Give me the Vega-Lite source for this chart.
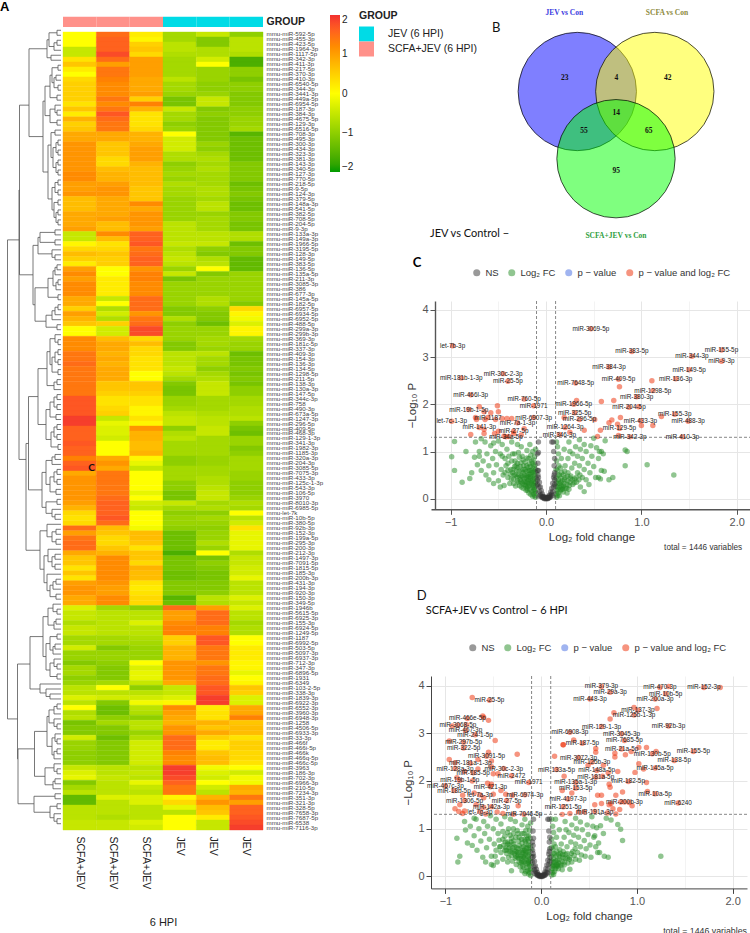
{"$schema":"https://vega.github.io/schema/vega-lite/v6.json","background":"white","padding":0,"config":{"view":{"stroke":null},"font":"Liberation Sans"},
"datasets":{
"heat":[
{"m":"592-5p","s":"S1","v":0},{"m":"592-5p","s":"S2","v":1.5},{"m":"592-5p","s":"S3","v":0.2},{"m":"592-5p","s":"J1","v":-0.8},{"m":"592-5p","s":"J2","v":-0.5},{"m":"592-5p","s":"J3","v":-1},
{"m":"455-3p","s":"S1","v":0},{"m":"455-3p","s":"S2","v":1.6},{"m":"455-3p","s":"S3","v":0.1},{"m":"455-3p","s":"J1","v":-0.8},{"m":"455-3p","s":"J2","v":-1.1},{"m":"455-3p","s":"J3","v":-0.6},
{"m":"423-5p","s":"S1","v":0},{"m":"423-5p","s":"S2","v":1.6},{"m":"423-5p","s":"S3","v":0.5},{"m":"423-5p","s":"J1","v":-0.6},{"m":"423-5p","s":"J2","v":-1.1},{"m":"423-5p","s":"J3","v":-0.6},
{"m":"1964-3p","s":"S1","v":-0.5},{"m":"1964-3p","s":"S2","v":1.6},{"m":"1964-3p","s":"S3","v":0.6},{"m":"1964-3p","s":"J1","v":-0.6},{"m":"1964-3p","s":"J2","v":-0.7},{"m":"1964-3p","s":"J3","v":-0.6},
{"m":"1117-5p","s":"S1","v":-0.5},{"m":"1117-5p","s":"S2","v":1.8},{"m":"1117-5p","s":"S3","v":0.4},{"m":"1117-5p","s":"J1","v":-0.7},{"m":"1117-5p","s":"J2","v":-0.7},{"m":"1117-5p","s":"J3","v":-0.7},
{"m":"342-3p","s":"S1","v":0.3},{"m":"342-3p","s":"S2","v":1.5},{"m":"342-3p","s":"S3","v":1},{"m":"342-3p","s":"J1","v":-0.8},{"m":"342-3p","s":"J2","v":-0.4},{"m":"342-3p","s":"J3","v":-1.6},
{"m":"411-3p","s":"S1","v":0.6},{"m":"411-3p","s":"S2","v":1},{"m":"411-3p","s":"S3","v":1},{"m":"411-3p","s":"J1","v":-0.8},{"m":"411-3p","s":"J2","v":0},{"m":"411-3p","s":"J3","v":-1.6},
{"m":"217-5p","s":"S1","v":0.2},{"m":"217-5p","s":"S2","v":1.4},{"m":"217-5p","s":"S3","v":1},{"m":"217-5p","s":"J1","v":-0.8},{"m":"217-5p","s":"J2","v":-0.9},{"m":"217-5p","s":"J3","v":-1},
{"m":"370-3p","s":"S1","v":0},{"m":"370-3p","s":"S2","v":1.4},{"m":"370-3p","s":"S3","v":1},{"m":"370-3p","s":"J1","v":-0.8},{"m":"370-3p","s":"J2","v":-0.9},{"m":"370-3p","s":"J3","v":-1},
{"m":"410-3p","s":"S1","v":0.4},{"m":"410-3p","s":"S2","v":1.3},{"m":"410-3p","s":"S3","v":0.9},{"m":"410-3p","s":"J1","v":-0.6},{"m":"410-3p","s":"J2","v":-0.9},{"m":"410-3p","s":"J3","v":-1.2},
{"m":"6540-5p","s":"S1","v":0.5},{"m":"6540-5p","s":"S2","v":1.2},{"m":"6540-5p","s":"S3","v":0.9},{"m":"6540-5p","s":"J1","v":-0.8},{"m":"6540-5p","s":"J2","v":-1},{"m":"6540-5p","s":"J3","v":-1},
{"m":"344-3p","s":"S1","v":0.5},{"m":"344-3p","s":"S2","v":1.2},{"m":"344-3p","s":"S3","v":0.9},{"m":"344-3p","s":"J1","v":-0.8},{"m":"344-3p","s":"J2","v":-1},{"m":"344-3p","s":"J3","v":-1},
{"m":"3441-3p","s":"S1","v":0.5},{"m":"3441-3p","s":"S2","v":1.2},{"m":"3441-3p","s":"S3","v":1},{"m":"3441-3p","s":"J1","v":-0.9},{"m":"3441-3p","s":"J2","v":-0.9},{"m":"3441-3p","s":"J3","v":-1.1},
{"m":"449a-5p","s":"S1","v":0.5},{"m":"449a-5p","s":"S2","v":1.4},{"m":"449a-5p","s":"S3","v":0.5},{"m":"449a-5p","s":"J1","v":-1.2},{"m":"449a-5p","s":"J2","v":-0.5},{"m":"449a-5p","s":"J3","v":-1.1},
{"m":"6954-5p","s":"S1","v":0.3},{"m":"6954-5p","s":"S2","v":1.2},{"m":"6954-5p","s":"S3","v":1.3},{"m":"6954-5p","s":"J1","v":-1.2},{"m":"6954-5p","s":"J2","v":-0.5},{"m":"6954-5p","s":"J3","v":-1.1},
{"m":"187-3p","s":"S1","v":0.6},{"m":"187-3p","s":"S2","v":1.4},{"m":"187-3p","s":"S3","v":0.8},{"m":"187-3p","s":"J1","v":-0.5},{"m":"187-3p","s":"J2","v":-1.1},{"m":"187-3p","s":"J3","v":-1},
{"m":"384-3p","s":"S1","v":0.2},{"m":"384-3p","s":"S2","v":1.7},{"m":"384-3p","s":"S3","v":0.3},{"m":"384-3p","s":"J1","v":-0.8},{"m":"384-3p","s":"J2","v":-1},{"m":"384-3p","s":"J3","v":-1},
{"m":"4675-5p","s":"S1","v":0.8},{"m":"4675-5p","s":"S2","v":1.5},{"m":"4675-5p","s":"S3","v":0.3},{"m":"4675-5p","s":"J1","v":-0.8},{"m":"4675-5p","s":"J2","v":-1.1},{"m":"4675-5p","s":"J3","v":-0.9},
{"m":"129-3p","s":"S1","v":0.5},{"m":"129-3p","s":"S2","v":1.4},{"m":"129-3p","s":"S3","v":0.3},{"m":"129-3p","s":"J1","v":-1},{"m":"129-3p","s":"J2","v":-1.1},{"m":"129-3p","s":"J3","v":-0.9},
{"m":"6516-5p","s":"S1","v":0.6},{"m":"6516-5p","s":"S2","v":1.4},{"m":"6516-5p","s":"S3","v":0.4},{"m":"6516-5p","s":"J1","v":-0.9},{"m":"6516-5p","s":"J2","v":-1.1},{"m":"6516-5p","s":"J3","v":-0.8},
{"m":"708-3p","s":"S1","v":0.9},{"m":"708-3p","s":"S2","v":0.9},{"m":"708-3p","s":"S3","v":0.8},{"m":"708-3p","s":"J1","v":0},{"m":"708-3p","s":"J2","v":-1.1},{"m":"708-3p","s":"J3","v":-1.5},
{"m":"495-3p","s":"S1","v":0.9},{"m":"495-3p","s":"S2","v":0.9},{"m":"495-3p","s":"S3","v":0.8},{"m":"495-3p","s":"J1","v":-0.4},{"m":"495-3p","s":"J2","v":-1.1},{"m":"495-3p","s":"J3","v":-1.3},
{"m":"300-3p","s":"S1","v":1.1},{"m":"300-3p","s":"S2","v":0.6},{"m":"300-3p","s":"S3","v":0.9},{"m":"300-3p","s":"J1","v":-0.4},{"m":"300-3p","s":"J2","v":-0.9},{"m":"300-3p","s":"J3","v":-1.3},
{"m":"434-3p","s":"S1","v":1.1},{"m":"434-3p","s":"S2","v":0.6},{"m":"434-3p","s":"S3","v":1},{"m":"434-3p","s":"J1","v":-0.4},{"m":"434-3p","s":"J2","v":-1},{"m":"434-3p","s":"J3","v":-1.3},
{"m":"323-3p","s":"S1","v":1.1},{"m":"323-3p","s":"S2","v":0.6},{"m":"323-3p","s":"S3","v":1},{"m":"323-3p","s":"J1","v":-0.7},{"m":"323-3p","s":"J2","v":-0.8},{"m":"323-3p","s":"J3","v":-1.3},
{"m":"381-3p","s":"S1","v":1.1},{"m":"381-3p","s":"S2","v":0.4},{"m":"381-3p","s":"S3","v":1},{"m":"381-3p","s":"J1","v":-0.7},{"m":"381-3p","s":"J2","v":-0.7},{"m":"381-3p","s":"J3","v":-1.3},
{"m":"143-3p","s":"S1","v":1.1},{"m":"143-3p","s":"S2","v":0.4},{"m":"143-3p","s":"S3","v":0.8},{"m":"143-3p","s":"J1","v":-1},{"m":"143-3p","s":"J2","v":-0.8},{"m":"143-3p","s":"J3","v":-1.1},
{"m":"340-5p","s":"S1","v":1.1},{"m":"340-5p","s":"S2","v":0.7},{"m":"340-5p","s":"S3","v":0.7},{"m":"340-5p","s":"J1","v":-0.9},{"m":"340-5p","s":"J2","v":-0.7},{"m":"340-5p","s":"J3","v":-1.1},
{"m":"127-3p","s":"S1","v":1.2},{"m":"127-3p","s":"S2","v":0.8},{"m":"127-3p","s":"S3","v":0.7},{"m":"127-3p","s":"J1","v":-0.8},{"m":"127-3p","s":"J2","v":-0.8},{"m":"127-3p","s":"J3","v":-1.1},
{"m":"770-5p","s":"S1","v":1.2},{"m":"770-5p","s":"S2","v":0.8},{"m":"770-5p","s":"S3","v":0.7},{"m":"770-5p","s":"J1","v":-0.9},{"m":"770-5p","s":"J2","v":-0.8},{"m":"770-5p","s":"J3","v":-1.1},
{"m":"218-5p","s":"S1","v":1},{"m":"218-5p","s":"S2","v":1},{"m":"218-5p","s":"S3","v":0.7},{"m":"218-5p","s":"J1","v":-0.7},{"m":"218-5p","s":"J2","v":-0.8},{"m":"218-5p","s":"J3","v":-1.3},
{"m":"9-5p","s":"S1","v":1},{"m":"9-5p","s":"S2","v":1.1},{"m":"9-5p","s":"S3","v":0.6},{"m":"9-5p","s":"J1","v":-0.8},{"m":"9-5p","s":"J2","v":-0.7},{"m":"9-5p","s":"J3","v":-1.2},
{"m":"124-3p","s":"S1","v":1.1},{"m":"124-3p","s":"S2","v":1.1},{"m":"124-3p","s":"S3","v":0.6},{"m":"124-3p","s":"J1","v":-0.8},{"m":"124-3p","s":"J2","v":-0.7},{"m":"124-3p","s":"J3","v":-1.1},
{"m":"379-5p","s":"S1","v":0.7},{"m":"379-5p","s":"S2","v":0.9},{"m":"379-5p","s":"S3","v":0.6},{"m":"379-5p","s":"J1","v":-0.9},{"m":"379-5p","s":"J2","v":-0.8},{"m":"379-5p","s":"J3","v":-1.2},
{"m":"148a-3p","s":"S1","v":0.7},{"m":"148a-3p","s":"S2","v":0.9},{"m":"148a-3p","s":"S3","v":1.2},{"m":"148a-3p","s":"J1","v":-0.9},{"m":"148a-3p","s":"J2","v":-0.6},{"m":"148a-3p","s":"J3","v":-1.3},
{"m":"541-5p","s":"S1","v":0.7},{"m":"541-5p","s":"S2","v":0.9},{"m":"541-5p","s":"S3","v":0.9},{"m":"541-5p","s":"J1","v":-0.9},{"m":"541-5p","s":"J2","v":-0.6},{"m":"541-5p","s":"J3","v":-1.3},
{"m":"382-5p","s":"S1","v":0.9},{"m":"382-5p","s":"S2","v":0.9},{"m":"382-5p","s":"S3","v":1.1},{"m":"382-5p","s":"J1","v":-0.9},{"m":"382-5p","s":"J2","v":-0.9},{"m":"382-5p","s":"J3","v":-1.1},
{"m":"708-5p","s":"S1","v":0.9},{"m":"708-5p","s":"S2","v":1},{"m":"708-5p","s":"S3","v":1.1},{"m":"708-5p","s":"J1","v":-0.9},{"m":"708-5p","s":"J2","v":-0.8},{"m":"708-5p","s":"J3","v":-1.1},
{"m":"204-5p","s":"S1","v":0.9},{"m":"204-5p","s":"S2","v":0.7},{"m":"204-5p","s":"S3","v":1.1},{"m":"204-5p","s":"J1","v":-0.6},{"m":"204-5p","s":"J2","v":-0.8},{"m":"204-5p","s":"J3","v":-1.2},
{"m":"9-3p","s":"S1","v":1},{"m":"9-3p","s":"S2","v":0.7},{"m":"9-3p","s":"S3","v":1},{"m":"9-3p","s":"J1","v":-0.6},{"m":"9-3p","s":"J2","v":-0.8},{"m":"9-3p","s":"J3","v":-1.2},
{"m":"133a-3p","s":"S1","v":-0.5},{"m":"133a-3p","s":"S2","v":1.2},{"m":"133a-3p","s":"S3","v":1.6},{"m":"133a-3p","s":"J1","v":-0.6},{"m":"133a-3p","s":"J2","v":-0.6},{"m":"133a-3p","s":"J3","v":-0.7},
{"m":"149a-3p","s":"S1","v":-0.5},{"m":"149a-3p","s":"S2","v":0.7},{"m":"149a-3p","s":"S3","v":1.6},{"m":"149a-3p","s":"J1","v":-0.6},{"m":"149a-3p","s":"J2","v":-0.6},{"m":"149a-3p","s":"J3","v":-0.7},
{"m":"1966-5p","s":"S1","v":0.1},{"m":"1966-5p","s":"S2","v":0.3},{"m":"1966-5p","s":"S3","v":1.7},{"m":"1966-5p","s":"J1","v":-0.5},{"m":"1966-5p","s":"J2","v":-0.5},{"m":"1966-5p","s":"J3","v":-1.3},
{"m":"3195-5p","s":"S1","v":0.4},{"m":"3195-5p","s":"S2","v":0.4},{"m":"3195-5p","s":"S3","v":1.4},{"m":"3195-5p","s":"J1","v":-0.7},{"m":"3195-5p","s":"J2","v":-1},{"m":"3195-5p","s":"J3","v":-1.1},
{"m":"128-3p","s":"S1","v":0.7},{"m":"128-3p","s":"S2","v":0.6},{"m":"128-3p","s":"S3","v":1.5},{"m":"128-3p","s":"J1","v":-0.6},{"m":"128-3p","s":"J2","v":-1.1},{"m":"128-3p","s":"J3","v":-1.1},
{"m":"149-5p","s":"S1","v":0.5},{"m":"149-5p","s":"S2","v":0.5},{"m":"149-5p","s":"S3","v":1.6},{"m":"149-5p","s":"J1","v":-0.5},{"m":"149-5p","s":"J2","v":-0.7},{"m":"149-5p","s":"J3","v":-1.4},
{"m":"383-5p","s":"S1","v":0.2},{"m":"383-5p","s":"S2","v":0.5},{"m":"383-5p","s":"S3","v":1.6},{"m":"383-5p","s":"J1","v":-0.6},{"m":"383-5p","s":"J2","v":-0.6},{"m":"383-5p","s":"J3","v":-1.4},
{"m":"136-5p","s":"S1","v":1},{"m":"136-5p","s":"S2","v":0},{"m":"136-5p","s":"S3","v":1.1},{"m":"136-5p","s":"J1","v":-0.9},{"m":"136-5p","s":"J2","v":0},{"m":"136-5p","s":"J3","v":-1.4},
{"m":"135a-5p","s":"S1","v":1.2},{"m":"135a-5p","s":"S2","v":0},{"m":"135a-5p","s":"S3","v":1.3},{"m":"135a-5p","s":"J1","v":-0.5},{"m":"135a-5p","s":"J2","v":-1.1},{"m":"135a-5p","s":"J3","v":-0.9},
{"m":"211-3p","s":"S1","v":1},{"m":"211-3p","s":"S2","v":0.2},{"m":"211-3p","s":"S3","v":1.3},{"m":"211-3p","s":"J1","v":-1.2},{"m":"211-3p","s":"J2","v":-0.9},{"m":"211-3p","s":"J3","v":-0.9},
{"m":"3085-3p","s":"S1","v":1.2},{"m":"3085-3p","s":"S2","v":0.2},{"m":"3085-3p","s":"S3","v":1.2},{"m":"3085-3p","s":"J1","v":-0.9},{"m":"3085-3p","s":"J2","v":-0.9},{"m":"3085-3p","s":"J3","v":-0.9},
{"m":"386","s":"S1","v":1.2},{"m":"386","s":"S2","v":0.2},{"m":"386","s":"S3","v":1.2},{"m":"386","s":"J1","v":-0.9},{"m":"386","s":"J2","v":-0.9},{"m":"386","s":"J3","v":-0.9},
{"m":"677-3p","s":"S1","v":1.2},{"m":"677-3p","s":"S2","v":0.2},{"m":"677-3p","s":"S3","v":1.2},{"m":"677-3p","s":"J1","v":-0.9},{"m":"677-3p","s":"J2","v":-0.9},{"m":"677-3p","s":"J3","v":-0.9},
{"m":"145a-5p","s":"S1","v":0.9},{"m":"145a-5p","s":"S2","v":-0.5},{"m":"145a-5p","s":"S3","v":1.5},{"m":"145a-5p","s":"J1","v":-0.9},{"m":"145a-5p","s":"J2","v":-0.7},{"m":"145a-5p","s":"J3","v":-0.9},
{"m":"182-5p","s":"S1","v":0.9},{"m":"182-5p","s":"S2","v":0},{"m":"182-5p","s":"S3","v":1.5},{"m":"182-5p","s":"J1","v":-0.9},{"m":"182-5p","s":"J2","v":-0.7},{"m":"182-5p","s":"J3","v":-1.1},
{"m":"6957-5p","s":"S1","v":0.5},{"m":"6957-5p","s":"S2","v":-0.7},{"m":"6957-5p","s":"S3","v":1.5},{"m":"6957-5p","s":"J1","v":-1.1},{"m":"6957-5p","s":"J2","v":-1},{"m":"6957-5p","s":"J3","v":0.4},
{"m":"6934-5p","s":"S1","v":1},{"m":"6934-5p","s":"S2","v":-0.4},{"m":"6934-5p","s":"S3","v":1.1},{"m":"6934-5p","s":"J1","v":-1.1},{"m":"6934-5p","s":"J2","v":-1.1},{"m":"6934-5p","s":"J3","v":0.1},
{"m":"6952-5p","s":"S1","v":0.8},{"m":"6952-5p","s":"S2","v":-0.7},{"m":"6952-5p","s":"S3","v":1.4},{"m":"6952-5p","s":"J1","v":-0.7},{"m":"6952-5p","s":"J2","v":-1.1},{"m":"6952-5p","s":"J3","v":-0.1},
{"m":"488-5p","s":"S1","v":0.6},{"m":"488-5p","s":"S2","v":0.5},{"m":"488-5p","s":"S3","v":1.5},{"m":"488-5p","s":"J1","v":-1},{"m":"488-5p","s":"J2","v":-1.3},{"m":"488-5p","s":"J3","v":-0.3},
{"m":"299a-3p","s":"S1","v":0},{"m":"299a-3p","s":"S2","v":-0.4},{"m":"299a-3p","s":"S3","v":1.8},{"m":"299a-3p","s":"J1","v":-0.9},{"m":"299a-3p","s":"J2","v":-0.9},{"m":"299a-3p","s":"J3","v":0.1},
{"m":"299b-3p","s":"S1","v":0},{"m":"299b-3p","s":"S2","v":-0.4},{"m":"299b-3p","s":"S3","v":1.8},{"m":"299b-3p","s":"J1","v":-0.9},{"m":"299b-3p","s":"J2","v":-0.9},{"m":"299b-3p","s":"J3","v":0.1},
{"m":"369-3p","s":"S1","v":1.2},{"m":"369-3p","s":"S2","v":0.7},{"m":"369-3p","s":"S3","v":0.4},{"m":"369-3p","s":"J1","v":-0.9},{"m":"369-3p","s":"J2","v":-0.8},{"m":"369-3p","s":"J3","v":-0.8},
{"m":"181c-5p","s":"S1","v":1.2},{"m":"181c-5p","s":"S2","v":0.9},{"m":"181c-5p","s":"S3","v":0.7},{"m":"181c-5p","s":"J1","v":-1.1},{"m":"181c-5p","s":"J2","v":-0.8},{"m":"181c-5p","s":"J3","v":-0.9},
{"m":"337-3p","s":"S1","v":1.2},{"m":"337-3p","s":"S2","v":0.9},{"m":"337-3p","s":"S3","v":0.4},{"m":"337-3p","s":"J1","v":-1.1},{"m":"337-3p","s":"J2","v":-0.9},{"m":"337-3p","s":"J3","v":-0.9},
{"m":"409-3p","s":"S1","v":1.4},{"m":"409-3p","s":"S2","v":0.8},{"m":"409-3p","s":"S3","v":0.4},{"m":"409-3p","s":"J1","v":-0.6},{"m":"409-3p","s":"J2","v":-0.6},{"m":"409-3p","s":"J3","v":-1.3},
{"m":"154-3p","s":"S1","v":1.4},{"m":"154-3p","s":"S2","v":0.9},{"m":"154-3p","s":"S3","v":0.3},{"m":"154-3p","s":"J1","v":-0.6},{"m":"154-3p","s":"J2","v":-0.8},{"m":"154-3p","s":"J3","v":-1.2},
{"m":"136-3p","s":"S1","v":1.5},{"m":"136-3p","s":"S2","v":0.8},{"m":"136-3p","s":"S3","v":0.3},{"m":"136-3p","s":"J1","v":-0.6},{"m":"136-3p","s":"J2","v":-0.8},{"m":"136-3p","s":"J3","v":-1.2},
{"m":"134-5p","s":"S1","v":1.4},{"m":"134-5p","s":"S2","v":0.9},{"m":"134-5p","s":"S3","v":0.3},{"m":"134-5p","s":"J1","v":-0.5},{"m":"134-5p","s":"J2","v":-1},{"m":"134-5p","s":"J3","v":-1.1},
{"m":"1298-5p","s":"S1","v":1.4},{"m":"1298-5p","s":"S2","v":0.9},{"m":"1298-5p","s":"S3","v":0},{"m":"1298-5p","s":"J1","v":-0.6},{"m":"1298-5p","s":"J2","v":-0.8},{"m":"1298-5p","s":"J3","v":-1.2},
{"m":"211-5p","s":"S1","v":1.4},{"m":"211-5p","s":"S2","v":0.9},{"m":"211-5p","s":"S3","v":0},{"m":"211-5p","s":"J1","v":-0.8},{"m":"211-5p","s":"J2","v":-0.7},{"m":"211-5p","s":"J3","v":-1.1},
{"m":"138-3p","s":"S1","v":1.4},{"m":"138-3p","s":"S2","v":0.6},{"m":"138-3p","s":"S3","v":0.6},{"m":"138-3p","s":"J1","v":-1.1},{"m":"138-3p","s":"J2","v":-0.5},{"m":"138-3p","s":"J3","v":-1.2},
{"m":"130a-3p","s":"S1","v":1.4},{"m":"130a-3p","s":"S2","v":0.6},{"m":"130a-3p","s":"S3","v":0.6},{"m":"130a-3p","s":"J1","v":-1.2},{"m":"130a-3p","s":"J2","v":-0.5},{"m":"130a-3p","s":"J3","v":-1},
{"m":"147-5p","s":"S1","v":1.4},{"m":"147-5p","s":"S2","v":0.5},{"m":"147-5p","s":"S3","v":0.5},{"m":"147-5p","s":"J1","v":-1.2},{"m":"147-5p","s":"J2","v":-0.5},{"m":"147-5p","s":"J3","v":-1},
{"m":"344c-3p","s":"S1","v":1.7},{"m":"344c-3p","s":"S2","v":0.3},{"m":"344c-3p","s":"S3","v":0.3},{"m":"344c-3p","s":"J1","v":-0.9},{"m":"344c-3p","s":"J2","v":-0.8},{"m":"344c-3p","s":"J3","v":-0.8},
{"m":"758","s":"S1","v":1.7},{"m":"758","s":"S2","v":0.3},{"m":"758","s":"S3","v":0.3},{"m":"758","s":"J1","v":-0.9},{"m":"758","s":"J2","v":-0.8},{"m":"758","s":"J3","v":-0.8},
{"m":"490-3p","s":"S1","v":1.7},{"m":"490-3p","s":"S2","v":0.4},{"m":"490-3p","s":"S3","v":0.1},{"m":"490-3p","s":"J1","v":-0.8},{"m":"490-3p","s":"J2","v":-0.8},{"m":"490-3p","s":"J3","v":-0.7},
{"m":"673a-5p","s":"S1","v":1.7},{"m":"673a-5p","s":"S2","v":0.5},{"m":"673a-5p","s":"S3","v":0.1},{"m":"673a-5p","s":"J1","v":-0.6},{"m":"673a-5p","s":"J2","v":-0.7},{"m":"673a-5p","s":"J3","v":-0.7},
{"m":"1247-3p","s":"S1","v":1.9},{"m":"1247-3p","s":"S2","v":-0.5},{"m":"1247-3p","s":"S3","v":0.3},{"m":"1247-3p","s":"J1","v":-0.5},{"m":"1247-3p","s":"J2","v":-0.6},{"m":"1247-3p","s":"J3","v":-0.6},
{"m":"296-5p","s":"S1","v":1.9},{"m":"296-5p","s":"S2","v":-0.2},{"m":"296-5p","s":"S3","v":0.1},{"m":"296-5p","s":"J1","v":-0.5},{"m":"296-5p","s":"J2","v":-0.6},{"m":"296-5p","s":"J3","v":-1},
{"m":"409-5p","s":"S1","v":1.6},{"m":"409-5p","s":"S2","v":-0.3},{"m":"409-5p","s":"S3","v":1.1},{"m":"409-5p","s":"J1","v":-1},{"m":"409-5p","s":"J2","v":-0.5},{"m":"409-5p","s":"J3","v":-1.2},
{"m":"468-3p","s":"S1","v":1.6},{"m":"468-3p","s":"S2","v":-0.3},{"m":"468-3p","s":"S3","v":0.8},{"m":"468-3p","s":"J1","v":-0.7},{"m":"468-3p","s":"J2","v":-0.5},{"m":"468-3p","s":"J3","v":-1.3},
{"m":"129-1-3p","s":"S1","v":1.6},{"m":"129-1-3p","s":"S2","v":-0.4},{"m":"129-1-3p","s":"S3","v":0.8},{"m":"129-1-3p","s":"J1","v":-0.6},{"m":"129-1-3p","s":"J2","v":-0.8},{"m":"129-1-3p","s":"J3","v":-0.9},
{"m":"341-3p","s":"S1","v":1.7},{"m":"341-3p","s":"S2","v":0},{"m":"341-3p","s":"S3","v":0.7},{"m":"341-3p","s":"J1","v":-0.8},{"m":"341-3p","s":"J2","v":-0.8},{"m":"341-3p","s":"J3","v":-0.9},
{"m":"1982-3p","s":"S1","v":1.6},{"m":"1982-3p","s":"S2","v":0},{"m":"1982-3p","s":"S3","v":0.7},{"m":"1982-3p","s":"J1","v":-0.8},{"m":"1982-3p","s":"J2","v":-0.8},{"m":"1982-3p","s":"J3","v":-1.1},
{"m":"1185-3p","s":"S1","v":1.6},{"m":"1185-3p","s":"S2","v":0},{"m":"1185-3p","s":"S3","v":0.8},{"m":"1185-3p","s":"J1","v":-0.8},{"m":"1185-3p","s":"J2","v":-0.8},{"m":"1185-3p","s":"J3","v":-1},
{"m":"320a-3p","s":"S1","v":1.3},{"m":"320a-3p","s":"S2","v":0.9},{"m":"320a-3p","s":"S3","v":0.1},{"m":"320a-3p","s":"J1","v":-1},{"m":"320a-3p","s":"J2","v":-0.9},{"m":"320a-3p","s":"J3","v":-0.8},
{"m":"204-3p","s":"S1","v":1.6},{"m":"204-3p","s":"S2","v":1.1},{"m":"204-3p","s":"S3","v":-0.2},{"m":"204-3p","s":"J1","v":-1},{"m":"204-3p","s":"J2","v":-0.9},{"m":"204-3p","s":"J3","v":-0.8},
{"m":"3085-5p","s":"S1","v":1.7},{"m":"3085-5p","s":"S2","v":0.9},{"m":"3085-5p","s":"S3","v":-0.5},{"m":"3085-5p","s":"J1","v":-0.8},{"m":"3085-5p","s":"J2","v":-0.8},{"m":"3085-5p","s":"J3","v":-0.8},
{"m":"7075-3p","s":"S1","v":0.9},{"m":"7075-3p","s":"S2","v":1.4},{"m":"7075-3p","s":"S3","v":0},{"m":"7075-3p","s":"J1","v":-0.8},{"m":"7075-3p","s":"J2","v":-0.8},{"m":"7075-3p","s":"J3","v":-0.9},
{"m":"433-3p","s":"S1","v":1.1},{"m":"433-3p","s":"S2","v":1.4},{"m":"433-3p","s":"S3","v":0},{"m":"433-3p","s":"J1","v":-0.8},{"m":"433-3p","s":"J2","v":-0.7},{"m":"433-3p","s":"J3","v":-0.9},
{"m":"125c-1-3p","s":"S1","v":1.1},{"m":"125c-1-3p","s":"S2","v":1.4},{"m":"125c-1-3p","s":"S3","v":0},{"m":"125c-1-3p","s":"J1","v":-1},{"m":"125c-1-3p","s":"J2","v":-0.7},{"m":"125c-1-3p","s":"J3","v":-1},
{"m":"543-3p","s":"S1","v":1.1},{"m":"543-3p","s":"S2","v":1.4},{"m":"543-3p","s":"S3","v":0},{"m":"543-3p","s":"J1","v":-1},{"m":"543-3p","s":"J2","v":-0.6},{"m":"543-3p","s":"J3","v":-1},
{"m":"106-5p","s":"S1","v":1.1},{"m":"106-5p","s":"S2","v":1.4},{"m":"106-5p","s":"S3","v":-0.2},{"m":"106-5p","s":"J1","v":-1.2},{"m":"106-5p","s":"J2","v":-0.5},{"m":"106-5p","s":"J3","v":-1},
{"m":"3970","s":"S1","v":1.1},{"m":"3970","s":"S2","v":1.5},{"m":"3970","s":"S3","v":0},{"m":"3970","s":"J1","v":-1.2},{"m":"3970","s":"J2","v":-0.5},{"m":"3970","s":"J3","v":-0.9},
{"m":"8010-3p","s":"S1","v":1},{"m":"8010-3p","s":"S2","v":1.6},{"m":"8010-3p","s":"S3","v":-0.4},{"m":"8010-3p","s":"J1","v":-0.5},{"m":"8010-3p","s":"J2","v":-0.8},{"m":"8010-3p","s":"J3","v":-0.7},
{"m":"6985-5p","s":"S1","v":0.8},{"m":"6985-5p","s":"S2","v":1.6},{"m":"6985-5p","s":"S3","v":-0.5},{"m":"6985-5p","s":"J1","v":-0.8},{"m":"6985-5p","s":"J2","v":-0.7},{"m":"6985-5p","s":"J3","v":-0.8},
{"m":"let-7k","s":"S1","v":0.4},{"m":"let-7k","s":"S2","v":1.6},{"m":"let-7k","s":"S3","v":0},{"m":"let-7k","s":"J1","v":-1},{"m":"let-7k","s":"J2","v":-1},{"m":"let-7k","s":"J3","v":0},
{"m":"10b-5p","s":"S1","v":0.3},{"m":"10b-5p","s":"S2","v":1.7},{"m":"10b-5p","s":"S3","v":0},{"m":"10b-5p","s":"J1","v":-0.9},{"m":"10b-5p","s":"J2","v":-0.8},{"m":"10b-5p","s":"J3","v":-0.6},
{"m":"380-5p","s":"S1","v":0.4},{"m":"380-5p","s":"S2","v":1.5},{"m":"380-5p","s":"S3","v":0},{"m":"380-5p","s":"J1","v":-0.9},{"m":"380-5p","s":"J2","v":-0.9},{"m":"380-5p","s":"J3","v":-0.4},
{"m":"92b-3p","s":"S1","v":1.5},{"m":"92b-3p","s":"S2","v":0.7},{"m":"92b-3p","s":"S3","v":-0.1},{"m":"92b-3p","s":"J1","v":-1},{"m":"92b-3p","s":"J2","v":-1},{"m":"92b-3p","s":"J3","v":0.3},
{"m":"152-3p","s":"S1","v":1},{"m":"152-3p","s":"S2","v":0.6},{"m":"152-3p","s":"S3","v":0.7},{"m":"152-3p","s":"J1","v":-1.3},{"m":"152-3p","s":"J2","v":-0.9},{"m":"152-3p","s":"J3","v":-0.2},
{"m":"199a-5p","s":"S1","v":1.4},{"m":"199a-5p","s":"S2","v":0.4},{"m":"199a-5p","s":"S3","v":0.7},{"m":"199a-5p","s":"J1","v":-1.3},{"m":"199a-5p","s":"J2","v":-0.9},{"m":"199a-5p","s":"J3","v":-0.2},
{"m":"295-3p","s":"S1","v":1.5},{"m":"295-3p","s":"S2","v":0.4},{"m":"295-3p","s":"S3","v":0.6},{"m":"295-3p","s":"J1","v":-1.3},{"m":"295-3p","s":"J2","v":-0.7},{"m":"295-3p","s":"J3","v":-0.2},
{"m":"200-3p","s":"S1","v":1.5},{"m":"200-3p","s":"S2","v":0.6},{"m":"200-3p","s":"S3","v":0.3},{"m":"200-3p","s":"J1","v":-1.3},{"m":"200-3p","s":"J2","v":-0.9},{"m":"200-3p","s":"J3","v":-0.2},
{"m":"212-3p","s":"S1","v":0.9},{"m":"212-3p","s":"S2","v":0.8},{"m":"212-3p","s":"S3","v":0.6},{"m":"212-3p","s":"J1","v":-1.6},{"m":"212-3p","s":"J2","v":0},{"m":"212-3p","s":"J3","v":-0.7},
{"m":"1497-3p","s":"S1","v":0.6},{"m":"1497-3p","s":"S2","v":1.2},{"m":"1497-3p","s":"S3","v":0.6},{"m":"1497-3p","s":"J1","v":-1.2},{"m":"1497-3p","s":"J2","v":-1.2},{"m":"1497-3p","s":"J3","v":-0.5},
{"m":"7091-5p","s":"S1","v":0.6},{"m":"7091-5p","s":"S2","v":1.2},{"m":"7091-5p","s":"S3","v":0.4},{"m":"7091-5p","s":"J1","v":-1.2},{"m":"7091-5p","s":"J2","v":-1},{"m":"7091-5p","s":"J3","v":-0.5},
{"m":"1815-5p","s":"S1","v":0.3},{"m":"1815-5p","s":"S2","v":1.2},{"m":"1815-5p","s":"S3","v":0.8},{"m":"1815-5p","s":"J1","v":-1.2},{"m":"1815-5p","s":"J2","v":-1.1},{"m":"1815-5p","s":"J3","v":-0.4},
{"m":"185-3p","s":"S1","v":0.6},{"m":"185-3p","s":"S2","v":1.2},{"m":"185-3p","s":"S3","v":0.7},{"m":"185-3p","s":"J1","v":-1.3},{"m":"185-3p","s":"J2","v":-1.2},{"m":"185-3p","s":"J3","v":-0.4},
{"m":"200b-3p","s":"S1","v":0.3},{"m":"200b-3p","s":"S2","v":1.2},{"m":"200b-3p","s":"S3","v":0.7},{"m":"200b-3p","s":"J1","v":-1.3},{"m":"200b-3p","s":"J2","v":-1.2},{"m":"200b-3p","s":"J3","v":-0.2},
{"m":"431-3p","s":"S1","v":1},{"m":"431-3p","s":"S2","v":1.1},{"m":"431-3p","s":"S3","v":0.3},{"m":"431-3p","s":"J1","v":-1.1},{"m":"431-3p","s":"J2","v":-1.1},{"m":"431-3p","s":"J3","v":-0.6},
{"m":"194-3p","s":"S1","v":1.1},{"m":"194-3p","s":"S2","v":1},{"m":"194-3p","s":"S3","v":0.2},{"m":"194-3p","s":"J1","v":-1.1},{"m":"194-3p","s":"J2","v":-1.1},{"m":"194-3p","s":"J3","v":-0.6},
{"m":"920-3p","s":"S1","v":1.1},{"m":"920-3p","s":"S2","v":1},{"m":"920-3p","s":"S3","v":0.3},{"m":"920-3p","s":"J1","v":-1.1},{"m":"920-3p","s":"J2","v":-1},{"m":"920-3p","s":"J3","v":-0.6},
{"m":"150-3p","s":"S1","v":0.9},{"m":"150-3p","s":"S2","v":1.2},{"m":"150-3p","s":"S3","v":0.4},{"m":"150-3p","s":"J1","v":-1.5},{"m":"150-3p","s":"J2","v":-0.6},{"m":"150-3p","s":"J3","v":-0.3},
{"m":"349-5p","s":"S1","v":0.9},{"m":"349-5p","s":"S2","v":1.2},{"m":"349-5p","s":"S3","v":0.4},{"m":"349-5p","s":"J1","v":-1.3},{"m":"349-5p","s":"J2","v":-0.7},{"m":"349-5p","s":"J3","v":-0.5},
{"m":"1946b","s":"S1","v":-0.3},{"m":"1946b","s":"S2","v":-0.8},{"m":"1946b","s":"S3","v":-1},{"m":"1946b","s":"J1","v":1.5},{"m":"1946b","s":"J2","v":1},{"m":"1946b","s":"J3","v":-0.3},
{"m":"5615-5p","s":"S1","v":-0.5},{"m":"5615-5p","s":"S2","v":-0.6},{"m":"5615-5p","s":"S3","v":-0.6},{"m":"5615-5p","s":"J1","v":1},{"m":"5615-5p","s":"J2","v":1.5},{"m":"5615-5p","s":"J3","v":-0.6},
{"m":"6925-3p","s":"S1","v":-0.5},{"m":"6925-3p","s":"S2","v":-0.6},{"m":"6925-3p","s":"S3","v":-0.6},{"m":"6925-3p","s":"J1","v":1},{"m":"6925-3p","s":"J2","v":1.5},{"m":"6925-3p","s":"J3","v":-0.6},
{"m":"155-3p","s":"S1","v":-0.7},{"m":"155-3p","s":"S2","v":-0.6},{"m":"155-3p","s":"S3","v":-0.3},{"m":"155-3p","s":"J1","v":1.2},{"m":"155-3p","s":"J2","v":1.5},{"m":"155-3p","s":"J3","v":-0.8},
{"m":"6924-5p","s":"S1","v":-0.5},{"m":"6924-5p","s":"S2","v":-0.6},{"m":"6924-5p","s":"S3","v":-0.6},{"m":"6924-5p","s":"J1","v":1.3},{"m":"6924-5p","s":"J2","v":1.3},{"m":"6924-5p","s":"J3","v":-0.7},
{"m":"1249-5p","s":"S1","v":-0.5},{"m":"1249-5p","s":"S2","v":-0.6},{"m":"1249-5p","s":"S3","v":-0.6},{"m":"1249-5p","s":"J1","v":1.3},{"m":"1249-5p","s":"J2","v":1.3},{"m":"1249-5p","s":"J3","v":-0.7},
{"m":"1187","s":"S1","v":-0.8},{"m":"1187","s":"S2","v":-0.8},{"m":"1187","s":"S3","v":-0.7},{"m":"1187","s":"J1","v":0.5},{"m":"1187","s":"J2","v":1.7},{"m":"1187","s":"J3","v":0},
{"m":"6992-5p","s":"S1","v":-0.8},{"m":"6992-5p","s":"S2","v":-0.8},{"m":"6992-5p","s":"S3","v":-0.8},{"m":"6992-5p","s":"J1","v":0.5},{"m":"6992-5p","s":"J2","v":1.7},{"m":"6992-5p","s":"J3","v":0},
{"m":"503-5p","s":"S1","v":-0.4},{"m":"503-5p","s":"S2","v":-1.1},{"m":"503-5p","s":"S3","v":-0.9},{"m":"503-5p","s":"J1","v":0.8},{"m":"503-5p","s":"J2","v":1.4},{"m":"503-5p","s":"J3","v":0.2},
{"m":"5097-3p","s":"S1","v":-0.9},{"m":"5097-3p","s":"S2","v":-0.9},{"m":"5097-3p","s":"S3","v":-0.9},{"m":"5097-3p","s":"J1","v":0.8},{"m":"5097-3p","s":"J2","v":1.4},{"m":"5097-3p","s":"J3","v":0.2},
{"m":"6937-3p","s":"S1","v":-0.9},{"m":"6937-3p","s":"S2","v":-0.9},{"m":"6937-3p","s":"S3","v":-0.9},{"m":"6937-3p","s":"J1","v":0.8},{"m":"6937-3p","s":"J2","v":1.4},{"m":"6937-3p","s":"J3","v":0.2},
{"m":"712-3p","s":"S1","v":-1.1},{"m":"712-3p","s":"S2","v":-1},{"m":"712-3p","s":"S3","v":0},{"m":"712-3p","s":"J1","v":1.1},{"m":"712-3p","s":"J2","v":1.1},{"m":"712-3p","s":"J3","v":0.1},
{"m":"347-3p","s":"S1","v":-0.8},{"m":"347-3p","s":"S2","v":-1.1},{"m":"347-3p","s":"S3","v":-0.3},{"m":"347-3p","s":"J1","v":1.1},{"m":"347-3p","s":"J2","v":1.4},{"m":"347-3p","s":"J3","v":0.1},
{"m":"6896-5p","s":"S1","v":-0.8},{"m":"6896-5p","s":"S2","v":-1.1},{"m":"6896-5p","s":"S3","v":-0.2},{"m":"6896-5p","s":"J1","v":1.1},{"m":"6896-5p","s":"J2","v":1.4},{"m":"6896-5p","s":"J3","v":-0.2},
{"m":"1931","s":"S1","v":-1},{"m":"1931","s":"S2","v":-1.1},{"m":"1931","s":"S3","v":-0.2},{"m":"1931","s":"J1","v":1.1},{"m":"1931","s":"J2","v":1.5},{"m":"1931","s":"J3","v":0},
{"m":"6349","s":"S1","v":-0.9},{"m":"6349","s":"S2","v":-0.8},{"m":"6349","s":"S3","v":-0.5},{"m":"6349","s":"J1","v":0.9},{"m":"6349","s":"J2","v":1.5},{"m":"6349","s":"J3","v":0.1},
{"m":"103-2-5p","s":"S1","v":-0.6},{"m":"103-2-5p","s":"S2","v":0},{"m":"103-2-5p","s":"S3","v":-1},{"m":"103-2-5p","s":"J1","v":-0.5},{"m":"103-2-5p","s":"J2","v":1.7},{"m":"103-2-5p","s":"J3","v":0.6},
{"m":"338-3p","s":"S1","v":-0.6},{"m":"338-3p","s":"S2","v":-0.6},{"m":"338-3p","s":"S3","v":-0.6},{"m":"338-3p","s":"J1","v":-0.5},{"m":"338-3p","s":"J2","v":1.7},{"m":"338-3p","s":"J3","v":0.5},
{"m":"1839-3p","s":"S1","v":-0.3},{"m":"1839-3p","s":"S2","v":-0.4},{"m":"1839-3p","s":"S3","v":-0.4},{"m":"1839-3p","s":"J1","v":-0.3},{"m":"1839-3p","s":"J2","v":1.9},{"m":"1839-3p","s":"J3","v":-0.3},
{"m":"6922-3p","s":"S1","v":-0.6},{"m":"6922-3p","s":"S2","v":-1.1},{"m":"6922-3p","s":"S3","v":-0.1},{"m":"6922-3p","s":"J1","v":0.1},{"m":"6922-3p","s":"J2","v":1.9},{"m":"6922-3p","s":"J3","v":-0.3},
{"m":"6552-3p","s":"S1","v":0},{"m":"6552-3p","s":"S2","v":-1.3},{"m":"6552-3p","s":"S3","v":-0.6},{"m":"6552-3p","s":"J1","v":1.2},{"m":"6552-3p","s":"J2","v":0.2},{"m":"6552-3p","s":"J3","v":0.9},
{"m":"3960-3p","s":"S1","v":-0.7},{"m":"3960-3p","s":"S2","v":-1.3},{"m":"3960-3p","s":"S3","v":-0.7},{"m":"3960-3p","s":"J1","v":1},{"m":"3960-3p","s":"J2","v":0.3},{"m":"3960-3p","s":"J3","v":0.9},
{"m":"6948-3p","s":"S1","v":-0.6},{"m":"6948-3p","s":"S2","v":-1},{"m":"6948-3p","s":"S3","v":-1},{"m":"6948-3p","s":"J1","v":0.9},{"m":"6948-3p","s":"J2","v":0.3},{"m":"6948-3p","s":"J3","v":1.3},
{"m":"1258","s":"S1","v":-1.2},{"m":"1258","s":"S2","v":-0.8},{"m":"1258","s":"S3","v":-0.6},{"m":"1258","s":"J1","v":0.8},{"m":"1258","s":"J2","v":0.8},{"m":"1258","s":"J3","v":0.6},
{"m":"4506-5p","s":"S1","v":-1.1},{"m":"4506-5p","s":"S2","v":-1.1},{"m":"4506-5p","s":"S3","v":-0.6},{"m":"4506-5p","s":"J1","v":1.1},{"m":"4506-5p","s":"J2","v":0.6},{"m":"4506-5p","s":"J3","v":0.7},
{"m":"6933-3p","s":"S1","v":-1.1},{"m":"6933-3p","s":"S2","v":-1.1},{"m":"6933-3p","s":"S3","v":-0.9},{"m":"6933-3p","s":"J1","v":1.1},{"m":"6933-3p","s":"J2","v":0.9},{"m":"6933-3p","s":"J3","v":0.7},
{"m":"33-3p","s":"S1","v":-0.4},{"m":"33-3p","s":"S2","v":-1.3},{"m":"33-3p","s":"S3","v":-0.7},{"m":"33-3p","s":"J1","v":1.5},{"m":"33-3p","s":"J2","v":0.5},{"m":"33-3p","s":"J3","v":0.3},
{"m":"466f","s":"S1","v":-0.9},{"m":"466f","s":"S2","v":-1.1},{"m":"466f","s":"S3","v":-0.4},{"m":"466f","s":"J1","v":1.5},{"m":"466f","s":"J2","v":0.2},{"m":"466f","s":"J3","v":0.5},
{"m":"466i-5p","s":"S1","v":-0.9},{"m":"466i-5p","s":"S2","v":-1.1},{"m":"466i-5p","s":"S3","v":-0.4},{"m":"466i-5p","s":"J1","v":1.5},{"m":"466i-5p","s":"J2","v":0.2},{"m":"466i-5p","s":"J3","v":0.5},
{"m":"466k","s":"S1","v":-1},{"m":"466k","s":"S2","v":-1.1},{"m":"466k","s":"S3","v":-0.4},{"m":"466k","s":"J1","v":1.3},{"m":"466k","s":"J2","v":0.6},{"m":"466k","s":"J3","v":0.4},
{"m":"466q-5p","s":"S1","v":-1},{"m":"466q-5p","s":"S2","v":-1.1},{"m":"466q-5p","s":"S3","v":-0.4},{"m":"466q-5p","s":"J1","v":1.2},{"m":"466q-5p","s":"J2","v":0.7},{"m":"466q-5p","s":"J3","v":0.4},
{"m":"466c-5p","s":"S1","v":-1},{"m":"466c-5p","s":"S2","v":-1.1},{"m":"466c-5p","s":"S3","v":-0.4},{"m":"466c-5p","s":"J1","v":1.2},{"m":"466c-5p","s":"J2","v":0.7},{"m":"466c-5p","s":"J3","v":0.3},
{"m":"3963","s":"S1","v":-0.5},{"m":"3963","s":"S2","v":-0.6},{"m":"3963","s":"S3","v":-0.6},{"m":"3963","s":"J1","v":1.9},{"m":"3963","s":"J2","v":-0.1},{"m":"3963","s":"J3","v":0},
{"m":"186-3p","s":"S1","v":-0.3},{"m":"186-3p","s":"S2","v":-0.6},{"m":"186-3p","s":"S3","v":-0.5},{"m":"186-3p","s":"J1","v":1.9},{"m":"186-3p","s":"J2","v":-0.3},{"m":"186-3p","s":"J3","v":-0.4},
{"m":"702-3p","s":"S1","v":-0.2},{"m":"702-3p","s":"S2","v":-0.5},{"m":"702-3p","s":"S3","v":-0.6},{"m":"702-3p","s":"J1","v":1.8},{"m":"702-3p","s":"J2","v":-0.4},{"m":"702-3p","s":"J3","v":-0.1},
{"m":"6966-3p","s":"S1","v":-1.1},{"m":"6966-3p","s":"S2","v":-0.6},{"m":"6966-3p","s":"S3","v":-0.2},{"m":"6966-3p","s":"J1","v":1.6},{"m":"6966-3p","s":"J2","v":0},{"m":"6966-3p","s":"J3","v":-0.1},
{"m":"210-5p","s":"S1","v":-0.8},{"m":"210-5p","s":"S2","v":-0.6},{"m":"210-5p","s":"S3","v":-0.5},{"m":"210-5p","s":"J1","v":1.4},{"m":"210-5p","s":"J2","v":-0.4},{"m":"210-5p","s":"J3","v":0.9},
{"m":"7234-3p","s":"S1","v":-0.6},{"m":"7234-3p","s":"S2","v":-0.6},{"m":"7234-3p","s":"S3","v":-0.6},{"m":"7234-3p","s":"J1","v":1.4},{"m":"7234-3p","s":"J2","v":-0.6},{"m":"7234-3p","s":"J3","v":0.8},
{"m":"351-3p","s":"S1","v":-1.4},{"m":"351-3p","s":"S2","v":-0.3},{"m":"351-3p","s":"S3","v":-0.3},{"m":"351-3p","s":"J1","v":0.1},{"m":"351-3p","s":"J2","v":0.8},{"m":"351-3p","s":"J3","v":1.4},
{"m":"321-3p","s":"S1","v":-1.4},{"m":"321-3p","s":"S2","v":-0.6},{"m":"321-3p","s":"S3","v":-0.3},{"m":"321-3p","s":"J1","v":0.4},{"m":"321-3p","s":"J2","v":1.1},{"m":"321-3p","s":"J3","v":1},
{"m":"328-5p","s":"S1","v":-0.6},{"m":"328-5p","s":"S2","v":-0.6},{"m":"328-5p","s":"S3","v":-0.6},{"m":"328-5p","s":"J1","v":-0.2},{"m":"328-5p","s":"J2","v":0.7},{"m":"328-5p","s":"J3","v":1.6},
{"m":"7658-3p","s":"S1","v":-0.6},{"m":"7658-3p","s":"S2","v":-0.6},{"m":"7658-3p","s":"S3","v":-0.6},{"m":"7658-3p","s":"J1","v":-0.6},{"m":"7658-3p","s":"J2","v":0.6},{"m":"7658-3p","s":"J3","v":1.6},
{"m":"7687-5p","s":"S1","v":-0.6},{"m":"7687-5p","s":"S2","v":-0.7},{"m":"7687-5p","s":"S3","v":-0.6},{"m":"7687-5p","s":"J1","v":0},{"m":"7687-5p","s":"J2","v":0.2},{"m":"7687-5p","s":"J3","v":1.7},
{"m":"6538","s":"S1","v":-0.5},{"m":"6538","s":"S2","v":-0.5},{"m":"6538","s":"S3","v":-0.3},{"m":"6538","s":"J1","v":0},{"m":"6538","s":"J2","v":-0.5},{"m":"6538","s":"J3","v":1.8},
{"m":"7116-3p","s":"S1","v":-0.5},{"m":"7116-3p","s":"S2","v":-0.5},{"m":"7116-3p","s":"S3","v":-0.4},{"m":"7116-3p","s":"J1","v":0},{"m":"7116-3p","s":"J2","v":-0.5},{"m":"7116-3p","s":"J3","v":1.9}
],
"tree":[
{"d":57,"a":0,"b":1,"p":61,"q":61},{"d":57,"a":2,"b":3,"p":61,"q":61},{"d":54,"a":2.5,"b":4,"p":57,"q":61},{"d":49,"a":0.5,"b":3.25,"p":57,"q":54},{"d":51,"a":5,"b":6,"p":61,"q":61},{"d":47,"a":1.9,"b":5.5,"p":49,"q":51},
{"d":58,"a":7,"b":8,"p":61,"q":61},{"d":56,"a":9,"b":10,"p":61,"q":61},{"d":58,"a":11,"b":12,"p":61,"q":61},{"d":54,"a":9.5,"b":11.5,"p":56,"q":58},{"d":52,"a":7.5,"b":10.5,"p":58,"q":54},{"d":57,"a":13,"b":14,"p":61,"q":61},{"d":50,"a":9,"b":13.5,"p":52,"q":57},
{"d":57,"a":16,"b":17,"p":61,"q":61},{"d":55,"a":15,"b":16.5,"p":61,"q":57},{"d":57,"a":18,"b":19,"p":61,"q":61},{"d":50,"a":15.8,"b":18.5,"p":55,"q":57},{"d":45,"a":11.2,"b":17.1,"p":50,"q":50},
{"d":55,"a":20,"b":21,"p":61,"q":61},{"d":58,"a":22,"b":23,"p":61,"q":61},{"d":58,"a":24,"b":25,"p":61,"q":61},{"d":56,"a":22.5,"b":24.5,"p":58,"q":58},{"d":58,"a":26,"b":27,"p":61,"q":61},{"d":58,"a":28,"b":29,"p":61,"q":61},{"d":56,"a":26.5,"b":28.5,"p":58,"q":58},{"d":53,"a":23.5,"b":27.5,"p":56,"q":56},{"d":51,"a":20.5,"b":25.5,"p":55,"q":53},
{"d":58,"a":30,"b":31,"p":61,"q":61},{"d":58,"a":32,"b":33,"p":61,"q":61},{"d":55,"a":30.5,"b":32.5,"p":58,"q":58},{"d":58,"a":34,"b":35,"p":61,"q":61},{"d":58,"a":36,"b":37,"p":61,"q":61},{"d":58,"a":38,"b":39,"p":61,"q":61},{"d":56,"a":36.5,"b":38.5,"p":58,"q":58},{"d":54,"a":34.5,"b":37.5,"p":58,"q":56},{"d":52,"a":31.5,"b":36,"p":55,"q":54},{"d":48,"a":23,"b":33.8,"p":51,"q":52},
{"d":43,"a":14.2,"b":28.4,"p":45,"q":48},{"d":29,"a":3.7,"b":21.3,"p":47,"q":43},
{"d":55,"a":40,"b":41,"p":61,"q":61},{"d":55,"a":42,"b":43,"p":61,"q":61},{"d":40,"a":40.5,"b":42.5,"p":55,"q":55},{"d":55,"a":45,"b":46,"p":61,"q":61},{"d":52,"a":44,"b":45.5,"p":61,"q":55},{"d":38,"a":41.5,"b":44.8,"p":40,"q":52},
{"d":57,"a":47,"b":48,"p":61,"q":61},{"d":55,"a":47.5,"b":49,"p":57,"q":61},{"d":58,"a":50,"b":51,"p":61,"q":61},{"d":56,"a":50.5,"b":52,"p":58,"q":61},{"d":53,"a":48.2,"b":51.2,"p":55,"q":56},{"d":58,"a":53,"b":54,"p":61,"q":61},{"d":48,"a":49.7,"b":53.5,"p":53,"q":58},
{"d":58,"a":55,"b":56,"p":61,"q":61},{"d":55,"a":55.5,"b":57,"p":58,"q":61},{"d":52,"a":56.2,"b":58,"p":55,"q":61},{"d":57,"a":59,"b":60,"p":61,"q":61},{"d":46,"a":57.1,"b":59.5,"p":52,"q":57},{"d":35,"a":51.6,"b":58.3,"p":48,"q":46},{"d":33,"a":43.1,"b":55,"p":38,"q":35},{"d":19.5,"a":15,"b":49,"p":29,"q":33},
{"d":58,"a":62,"b":63,"p":61,"q":61},{"d":55,"a":61,"b":62.5,"p":61,"q":58},{"d":58,"a":64,"b":65,"p":61,"q":61},{"d":58,"a":66,"b":67,"p":61,"q":61},{"d":55,"a":64.5,"b":66.5,"p":58,"q":58},{"d":58,"a":68,"b":69,"p":61,"q":61},{"d":52,"a":65.5,"b":68.5,"p":55,"q":58},{"d":50,"a":61.8,"b":67,"p":55,"q":52},{"d":57,"a":70,"b":71,"p":61,"q":61},{"d":54,"a":70.5,"b":72,"p":57,"q":61},{"d":47,"a":64.4,"b":71.2,"p":50,"q":54},
{"d":57,"a":73,"b":74,"p":61,"q":61},{"d":57,"a":75,"b":76,"p":61,"q":61},{"d":54,"a":73.5,"b":75.5,"p":57,"q":57},{"d":56,"a":77,"b":78,"p":61,"q":61},{"d":50,"a":74.5,"b":77.5,"p":54,"q":56},{"d":57,"a":79,"b":80,"p":61,"q":61},{"d":57,"a":81,"b":82,"p":61,"q":61},{"d":54,"a":79.5,"b":81.5,"p":57,"q":57},{"d":58,"a":83,"b":84,"p":61,"q":61},{"d":51,"a":80.5,"b":83.5,"p":54,"q":58},{"d":46,"a":76,"b":82,"p":50,"q":51},{"d":38,"a":67.8,"b":79,"p":47,"q":46},
{"d":55,"a":85,"b":86,"p":61,"q":61},{"d":52,"a":85.5,"b":87,"p":55,"q":61},{"d":57,"a":88,"b":89,"p":61,"q":61},{"d":57,"a":90,"b":91,"p":61,"q":61},{"d":54,"a":88.5,"b":90.5,"p":57,"q":57},{"d":56,"a":92,"b":93,"p":61,"q":61},{"d":50,"a":89.5,"b":92.5,"p":54,"q":56},{"d":46,"a":86.2,"b":91,"p":52,"q":50},
{"d":57,"a":94,"b":95,"p":61,"q":61},{"d":55,"a":97,"b":98,"p":61,"q":61},{"d":52,"a":96,"b":97.5,"p":61,"q":55},{"d":46,"a":94.5,"b":96.8,"p":57,"q":52},{"d":42,"a":88.6,"b":95.6,"p":46,"q":46},{"d":28.5,"a":73.4,"b":92.1,"p":38,"q":42},
{"d":56,"a":100,"b":101,"p":61,"q":61},{"d":56,"a":102,"b":103,"p":61,"q":61},{"d":52,"a":100.5,"b":102.5,"p":56,"q":56},{"d":47,"a":99,"b":101.5,"p":61,"q":52},{"d":55,"a":105,"b":106,"p":61,"q":61},{"d":55,"a":107,"b":108,"p":61,"q":61},{"d":52,"a":105.5,"b":107.5,"p":55,"q":55},{"d":48,"a":104,"b":106.5,"p":61,"q":52},{"d":56,"a":110,"b":111,"p":61,"q":61},{"d":53,"a":110.5,"b":112,"p":56,"q":61},{"d":56,"a":113,"b":114,"p":61,"q":61},{"d":50,"a":111.2,"b":113.5,"p":53,"q":56},{"d":47,"a":109,"b":112.3,"p":61,"q":50},{"d":44,"a":105.3,"b":110.7,"p":48,"q":47},{"d":40,"a":100.3,"b":108,"p":47,"q":44},{"d":26,"a":82.8,"b":104.2,"p":28.5,"q":40},{"d":19,"a":32,"b":86,"p":19.5,"q":26},
{"d":57,"a":116,"b":117,"p":61,"q":61},{"d":53,"a":115,"b":116.5,"p":61,"q":57},{"d":56,"a":118,"b":119,"p":61,"q":61},{"d":54,"a":118.5,"b":120,"p":56,"q":61},{"d":48,"a":115.8,"b":119.2,"p":53,"q":54},{"d":57,"a":121,"b":122,"p":61,"q":61},{"d":55,"a":123,"b":124,"p":61,"q":61},{"d":53,"a":123.5,"b":125,"p":55,"q":61},{"d":50,"a":121.5,"b":124.2,"p":57,"q":53},{"d":57,"a":127,"b":128,"p":61,"q":61},{"d":54,"a":126,"b":127.5,"p":61,"q":57},{"d":57,"a":129,"b":130,"p":61,"q":61},{"d":50,"a":126.8,"b":129.5,"p":54,"q":57},{"d":46,"a":122.9,"b":128.2,"p":50,"q":50},{"d":43,"a":117.5,"b":125.5,"p":48,"q":46},
{"d":50,"a":133,"b":134,"p":61,"q":61},{"d":46,"a":132,"b":133.5,"p":61,"q":50},{"d":40,"a":131,"b":132.8,"p":61,"q":46},{"d":30,"a":121.5,"b":132,"p":43,"q":40},
{"d":57,"a":135,"b":136,"p":61,"q":61},{"d":54,"a":135.5,"b":137,"p":57,"q":61},{"d":57,"a":139,"b":140,"p":61,"q":61},{"d":54,"a":138,"b":139.5,"p":61,"q":57},{"d":49,"a":136.2,"b":138.8,"p":54,"q":54},{"d":57,"a":142,"b":143,"p":61,"q":61},{"d":55,"a":141,"b":142.5,"p":61,"q":57},{"d":57,"a":144,"b":145,"p":61,"q":61},{"d":54,"a":144.5,"b":146,"p":57,"q":61},{"d":52,"a":141.8,"b":145.2,"p":55,"q":54},{"d":47,"a":137.5,"b":143.5,"p":49,"q":52},
{"d":57,"a":148,"b":149,"p":61,"q":61},{"d":54,"a":147,"b":148.5,"p":61,"q":57},{"d":55,"a":150,"b":151,"p":61,"q":61},{"d":53,"a":150.5,"b":152,"p":55,"q":61},{"d":45,"a":147.8,"b":151.2,"p":54,"q":53},{"d":34.5,"a":140.5,"b":149.5,"p":47,"q":45},
{"d":55,"a":153,"b":154,"p":61,"q":61},{"d":57,"a":155,"b":156,"p":61,"q":61},{"d":57,"a":158,"b":159,"p":61,"q":61},{"d":54,"a":157,"b":158.5,"p":61,"q":57},{"d":50,"a":155.5,"b":157.8,"p":57,"q":54},{"d":34,"a":153.5,"b":156.7,"p":55,"q":50},{"d":18,"a":144,"b":155,"p":34.5,"q":34},{"d":17.5,"a":127,"b":146,"p":30,"q":18},{"d":7.5,"a":42,"b":138,"p":19,"q":17.5}
],
"volC":[
{"x":-0.105,"y":0.12,"c":"L"},{"x":-0.115,"y":0.16,"c":"L"},{"x":-0.125,"y":0.24,"c":"L"},{"x":-0.105,"y":0.28,"c":"L"},{"x":-0.12,"y":0.33,"c":"L"},{"x":-0.135,"y":0.36,"c":"L"},{"x":-0.105,"y":0.44,"c":"L"},{"x":-0.125,"y":0.44,"c":"L"},{"x":-0.145,"y":0.24,"c":"L"},{"x":-0.155,"y":0.34,"c":"L"},{"x":-0.165,"y":0.44,"c":"L"},{"x":-0.145,"y":0.47,"c":"L"},{"x":-0.105,"y":0.55,"c":"L"},{"x":-0.125,"y":0.58,"c":"L"},{"x":-0.155,"y":0.55,"c":"L"},{"x":-0.175,"y":0.28,"c":"L"},{"x":-0.185,"y":0.38,"c":"L"},{"x":-0.195,"y":0.18,"c":"L"},{"x":-0.175,"y":0.52,"c":"L"},{"x":-0.195,"y":0.47,"c":"L"},{"x":-0.205,"y":0.28,"c":"L"},{"x":-0.215,"y":0.36,"c":"L"},{"x":-0.225,"y":0.5,"c":"L"},{"x":-0.205,"y":0.58,"c":"L"},{"x":-0.185,"y":0.6,"c":"L"},{"x":-0.165,"y":0.68,"c":"L"},{"x":-0.135,"y":0.64,"c":"L"},{"x":-0.115,"y":0.72,"c":"L"},{"x":-0.145,"y":0.75,"c":"L"},{"x":-0.175,"y":0.74,"c":"L"},{"x":-0.205,"y":0.7,"c":"L"},{"x":-0.235,"y":0.36,"c":"L"},{"x":-0.245,"y":0.46,"c":"L"},{"x":-0.255,"y":0.58,"c":"L"},{"x":-0.235,"y":0.7,"c":"L"},{"x":-0.265,"y":0.36,"c":"L"},{"x":-0.275,"y":0.46,"c":"L"},{"x":-0.285,"y":0.58,"c":"L"},{"x":-0.265,"y":0.76,"c":"L"},{"x":-0.305,"y":0.46,"c":"L"},{"x":-0.315,"y":0.7,"c":"L"},{"x":-0.335,"y":0.5,"c":"L"},{"x":-0.345,"y":0.62,"c":"L"},{"x":-0.365,"y":0.42,"c":"L"},{"x":-0.375,"y":0.52,"c":"L"},{"x":-0.295,"y":0.66,"c":"L"},{"x":-0.325,"y":0.8,"c":"L"},{"x":-0.13,"y":0.82,"c":"L"},{"x":-0.16,"y":0.92,"c":"L"},{"x":-0.2,"y":0.86,"c":"L"},{"x":-0.24,"y":0.82,"c":"L"},{"x":-0.29,"y":0.98,"c":"L"},{"x":-0.35,"y":0.95,"c":"L"},{"x":-0.4,"y":0.6,"c":"L"},{"x":-0.43,"y":0.55,"c":"L"},
{"x":0.105,"y":0.1,"c":"L"},{"x":0.115,"y":0.17,"c":"L"},{"x":0.125,"y":0.2,"c":"L"},{"x":0.105,"y":0.26,"c":"L"},{"x":0.125,"y":0.32,"c":"L"},{"x":0.145,"y":0.24,"c":"L"},{"x":0.155,"y":0.35,"c":"L"},{"x":0.105,"y":0.44,"c":"L"},{"x":0.125,"y":0.5,"c":"L"},{"x":0.155,"y":0.44,"c":"L"},{"x":0.175,"y":0.2,"c":"L"},{"x":0.185,"y":0.27,"c":"L"},{"x":0.195,"y":0.4,"c":"L"},{"x":0.215,"y":0.22,"c":"L"},{"x":0.225,"y":0.38,"c":"L"},{"x":0.245,"y":0.28,"c":"L"},{"x":0.255,"y":0.44,"c":"L"},{"x":0.275,"y":0.4,"c":"L"},{"x":0.295,"y":0.34,"c":"L"},{"x":0.165,"y":0.55,"c":"L"},{"x":0.195,"y":0.58,"c":"L"},{"x":0.225,"y":0.48,"c":"L"},{"x":0.105,"y":0.62,"c":"L"},{"x":0.135,"y":0.7,"c":"L"},{"x":0.315,"y":0.45,"c":"L"},{"x":0.345,"y":0.4,"c":"L"},{"x":0.355,"y":0.5,"c":"L"},
{"x":-0.11,"y":0.03,"c":"L"},{"x":-0.12,"y":0.06,"c":"L"},{"x":-0.13,"y":0.1,"c":"L"},{"x":-0.14,"y":0.05,"c":"L"},{"x":-0.15,"y":0.15,"c":"L"},{"x":-0.16,"y":0.09,"c":"L"},{"x":-0.12,"y":0.2,"c":"L"},{"x":-0.13,"y":0.28,"c":"L"},{"x":-0.11,"y":0.35,"c":"L"},{"x":-0.14,"y":0.4,"c":"L"},{"x":-0.12,"y":0.5,"c":"L"},{"x":-0.15,"y":0.3,"c":"L"},{"x":-0.17,"y":0.2,"c":"L"},{"x":-0.18,"y":0.12,"c":"L"},{"x":-0.19,"y":0.26,"c":"L"},{"x":-0.16,"y":0.38,"c":"L"},{"x":-0.18,"y":0.46,"c":"L"},{"x":-0.14,"y":0.55,"c":"L"},{"x":-0.11,"y":0.62,"c":"L"},{"x":-0.13,"y":0.7,"c":"L"},{"x":-0.17,"y":0.6,"c":"L"},{"x":-0.2,"y":0.35,"c":"L"},{"x":-0.21,"y":0.18,"c":"L"},{"x":-0.22,"y":0.28,"c":"L"},{"x":-0.2,"y":0.5,"c":"L"},{"x":-0.23,"y":0.42,"c":"L"},{"x":-0.19,"y":0.66,"c":"L"},{"x":-0.15,"y":0.8,"c":"L"},{"x":-0.12,"y":0.9,"c":"L"},{"x":-0.11,"y":1.05,"c":"L"},{"x":-0.14,"y":1,"c":"L"},{"x":-0.18,"y":0.85,"c":"L"},{"x":-0.22,"y":0.62,"c":"L"},{"x":-0.24,"y":0.22,"c":"L"},{"x":-0.25,"y":0.33,"c":"L"},{"x":-0.26,"y":0.48,"c":"L"},{"x":-0.24,"y":0.55,"c":"L"},{"x":-0.27,"y":0.68,"c":"L"},{"x":-0.22,"y":0.78,"c":"L"},{"x":-0.25,"y":0.9,"c":"L"},{"x":-0.2,"y":1.02,"c":"L"},{"x":-0.17,"y":1.15,"c":"L"},{"x":-0.28,"y":0.28,"c":"L"},{"x":-0.3,"y":0.38,"c":"L"},{"x":-0.29,"y":0.5,"c":"L"},{"x":-0.31,"y":0.6,"c":"L"},{"x":-0.3,"y":0.75,"c":"L"},{"x":-0.28,"y":0.88,"c":"L"},{"x":-0.33,"y":0.95,"c":"L"},{"x":-0.26,"y":1.1,"c":"L"},{"x":-0.32,"y":0.27,"c":"L"},{"x":-0.34,"y":0.42,"c":"L"},{"x":-0.35,"y":0.55,"c":"L"},{"x":-0.33,"y":0.68,"c":"L"},{"x":-0.36,"y":0.8,"c":"L"},{"x":-0.3,"y":1.15,"c":"L"},{"x":-0.38,"y":0.32,"c":"L"},{"x":-0.4,"y":0.45,"c":"L"},{"x":-0.37,"y":0.62,"c":"L"},{"x":-0.42,"y":0.7,"c":"L"},{"x":-0.39,"y":0.9,"c":"L"},{"x":-0.41,"y":1.05,"c":"L"},{"x":-0.36,"y":1.2,"c":"L"},{"x":-0.44,"y":0.28,"c":"L"},{"x":-0.45,"y":0.5,"c":"L"},{"x":-0.43,"y":0.85,"c":"L"},{"x":-0.47,"y":0.62,"c":"L"},{"x":-0.48,"y":0.95,"c":"L"},{"x":-0.46,"y":1.15,"c":"L"},{"x":-0.5,"y":0.38,"c":"L"},{"x":-0.52,"y":0.72,"c":"L"},{"x":-0.53,"y":1,"c":"L"},{"x":-0.5,"y":1.22,"c":"L"},{"x":-0.55,"y":0.55,"c":"L"},{"x":-0.56,"y":0.85,"c":"L"},{"x":-0.58,"y":1.12,"c":"L"},{"x":-0.48,"y":0.25,"c":"L"},{"x":-0.6,"y":0.7,"c":"L"},{"x":-0.62,"y":0.95,"c":"L"},{"x":-0.64,"y":1.2,"c":"L"},{"x":-0.63,"y":0.5,"c":"L"},{"x":-0.66,"y":0.8,"c":"L"},{"x":-0.55,"y":0.32,"c":"L"},{"x":-0.7,"y":1,"c":"L"},{"x":-0.72,"y":0.72,"c":"L"},{"x":-0.68,"y":0.6,"c":"L"},{"x":-0.75,"y":0.88,"c":"L"},{"x":-0.78,"y":0.55,"c":"L"},{"x":-0.6,"y":0.4,"c":"L"},{"x":-0.84,"y":1,"c":"L"},{"x":-0.74,"y":1.2,"c":"L"},{"x":-0.55,"y":1.18,"c":"L"},{"x":-0.7,"y":0.9,"c":"L"},{"x":-0.46,"y":0.9,"c":"L"},{"x":-0.4,"y":0.75,"c":"L"},{"x":-0.32,"y":0.5,"c":"L"},{"x":-0.27,"y":0.4,"c":"L"},{"x":-0.23,"y":0.3,"c":"L"},{"x":-0.21,"y":0.45,"c":"L"},{"x":-0.18,"y":0.32,"c":"L"},{"x":-0.16,"y":0.5,"c":"L"},{"x":-0.13,"y":0.18,"c":"L"},{"x":-0.15,"y":0.6,"c":"L"},{"x":-0.19,"y":0.4,"c":"L"},{"x":-0.24,"y":0.62,"c":"L"},{"x":-0.29,"y":0.35,"c":"L"},{"x":-0.34,"y":0.32,"c":"L"},{"x":-0.26,"y":0.25,"c":"L"},{"x":-0.2,"y":0.22,"c":"L"},{"x":-0.96,"y":1.21,"c":"L"},{"x":-0.99,"y":0.89,"c":"L"},{"x":-0.96,"y":0.6,"c":"L"},{"x":-0.68,"y":1.27,"c":"L"},{"x":-0.88,"y":0.35,"c":"L"},{"x":-0.8,"y":0.43,"c":"L"},
{"x":0.11,"y":0.03,"c":"L"},{"x":0.12,"y":0.07,"c":"L"},{"x":0.13,"y":0.12,"c":"L"},{"x":0.14,"y":0.06,"c":"L"},{"x":0.15,"y":0.17,"c":"L"},{"x":0.12,"y":0.25,"c":"L"},{"x":0.11,"y":0.35,"c":"L"},{"x":0.13,"y":0.4,"c":"L"},{"x":0.16,"y":0.28,"c":"L"},{"x":0.18,"y":0.14,"c":"L"},{"x":0.17,"y":0.38,"c":"L"},{"x":0.14,"y":0.5,"c":"L"},{"x":0.12,"y":0.6,"c":"L"},{"x":0.2,"y":0.22,"c":"L"},{"x":0.19,"y":0.33,"c":"L"},{"x":0.22,"y":0.3,"c":"L"},{"x":0.18,"y":0.5,"c":"L"},{"x":0.15,"y":0.65,"c":"L"},{"x":0.11,"y":0.8,"c":"L"},{"x":0.13,"y":0.95,"c":"L"},{"x":0.12,"y":1.1,"c":"L"},{"x":0.11,"y":1.2,"c":"L"},{"x":0.16,"y":0.85,"c":"L"},{"x":0.2,"y":0.45,"c":"L"},{"x":0.24,"y":0.2,"c":"L"},{"x":0.25,"y":0.35,"c":"L"},{"x":0.23,"y":0.55,"c":"L"},{"x":0.2,"y":0.7,"c":"L"},{"x":0.26,"y":0.48,"c":"L"},{"x":0.28,"y":0.3,"c":"L"},{"x":0.3,"y":0.42,"c":"L"},{"x":0.27,"y":0.65,"c":"L"},{"x":0.23,"y":0.85,"c":"L"},{"x":0.19,"y":1.05,"c":"L"},{"x":0.25,"y":1,"c":"L"},{"x":0.32,"y":0.35,"c":"L"},{"x":0.33,"y":0.55,"c":"L"},{"x":0.3,"y":0.75,"c":"L"},{"x":0.28,"y":0.95,"c":"L"},{"x":0.24,"y":1.2,"c":"L"},{"x":0.36,"y":0.25,"c":"L"},{"x":0.38,"y":0.45,"c":"L"},{"x":0.35,"y":0.7,"c":"L"},{"x":0.33,"y":0.9,"c":"L"},{"x":0.31,"y":1.1,"c":"L"},{"x":0.4,"y":0.15,"c":"L"},{"x":0.42,"y":0.4,"c":"L"},{"x":0.4,"y":0.62,"c":"L"},{"x":0.38,"y":0.85,"c":"L"},{"x":0.36,"y":1.05,"c":"L"},{"x":0.35,"y":1.25,"c":"L"},{"x":0.45,"y":0.3,"c":"L"},{"x":0.46,"y":0.55,"c":"L"},{"x":0.44,"y":0.75,"c":"L"},{"x":0.42,"y":1,"c":"L"},{"x":0.4,"y":1.15,"c":"L"},{"x":0.48,"y":0.9,"c":"L"},{"x":0.47,"y":1.12,"c":"L"},{"x":0.52,"y":0.45,"c":"L"},{"x":0.5,"y":0.68,"c":"L"},{"x":0.55,"y":0.85,"c":"L"},{"x":0.53,"y":1.08,"c":"L"},{"x":0.5,"y":1.28,"c":"L"},{"x":0.57,"y":0.42,"c":"L"},{"x":0.58,"y":0.6,"c":"L"},{"x":0.58,"y":1,"c":"L"},{"x":0.56,"y":1,"c":"L"},{"x":0.6,"y":0.95,"c":"L"},{"x":0.61,"y":0.58,"c":"L"},{"x":0.55,"y":0.45,"c":"L"},{"x":0.62,"y":1.23,"c":"L"},{"x":0.66,"y":0.4,"c":"L"},{"x":0.7,"y":0.45,"c":"L"},{"x":0.83,"y":0.7,"c":"L"},{"x":0.85,"y":1,"c":"L"},{"x":0.83,"y":1.03,"c":"L"},{"x":1.06,"y":0.72,"c":"L"},{"x":1.34,"y":0.5,"c":"L"},{"x":0.16,"y":0.2,"c":"L"},{"x":0.22,"y":0.12,"c":"L"},{"x":0.14,"y":0.33,"c":"L"},{"x":0.17,"y":0.25,"c":"L"},
{"x":0,"y":0,"c":"N"},{"x":0.01,"y":0.02,"c":"N"},{"x":-0.01,"y":0.03,"c":"N"},{"x":-0.02,"y":0.01,"c":"N"},{"x":0.02,"y":0.03,"c":"N"},{"x":-0.03,"y":0.05,"c":"N"},{"x":0.03,"y":0.06,"c":"N"},{"x":-0.04,"y":0.1,"c":"N"},{"x":0.04,"y":0.08,"c":"N"},{"x":-0.05,"y":0.17,"c":"N"},{"x":0.05,"y":0.14,"c":"N"},{"x":-0.06,"y":0.25,"c":"N"},{"x":0.06,"y":0.22,"c":"N"},{"x":-0.07,"y":0.35,"c":"N"},{"x":0.07,"y":0.33,"c":"N"},{"x":-0.08,"y":0.45,"c":"N"},{"x":0.08,"y":0.45,"c":"N"},{"x":-0.09,"y":0.6,"c":"N"},{"x":0.09,"y":0.55,"c":"N"},{"x":-0.08,"y":0.6,"c":"N"},{"x":0.085,"y":0.7,"c":"N"},{"x":-0.085,"y":0.75,"c":"N"},{"x":0.09,"y":0.85,"c":"N"},{"x":-0.08,"y":0.98,"c":"N"},{"x":0.08,"y":1,"c":"N"},{"x":-0.08,"y":1.2,"c":"N"},{"x":0.06,"y":1.2,"c":"N"},{"x":0.075,"y":1.2,"c":"N"},{"x":-0.09,"y":0.95,"c":"N"},{"x":-0.075,"y":0.25,"c":"N"},{"x":0.07,"y":0.15,"c":"N"},{"x":-0.015,"y":0,"c":"N"},{"x":0.015,"y":0,"c":"N"},{"x":-0.035,"y":0.02,"c":"N"},{"x":0.035,"y":0.02,"c":"N"},{"x":-0.06,"y":0.08,"c":"N"},{"x":0.06,"y":0.1,"c":"N"},{"x":0,"y":0.01,"c":"N"},{"x":-0.025,"y":0.03,"c":"N"},{"x":0.025,"y":0.02,"c":"N"},{"x":-0.05,"y":0.05,"c":"N"},{"x":0.05,"y":0.05,"c":"N"},{"x":-0.07,"y":0.15,"c":"N"},{"x":0.08,"y":0.25,"c":"N"},{"x":-0.09,"y":0.4,"c":"N"},{"x":0.09,"y":0.4,"c":"N"},{"x":-0.09,"y":0.3,"c":"N"},{"x":0.09,"y":0.3,"c":"N"},{"x":-0.085,"y":0.5,"c":"N"},{"x":0.085,"y":0.5,"c":"N"},{"x":-0.07,"y":0.05,"c":"N"},{"x":0.07,"y":0.06,"c":"N"},{"x":-0.04,"y":0.03,"c":"N"},{"x":0.04,"y":0.03,"c":"N"},{"x":-0.02,"y":0.03,"c":"N"},{"x":0.02,"y":0.01,"c":"N"},
{"x":1.11,"y":2.5,"c":"B"},{"x":0.77,"y":2.37,"c":"B"},{"x":0.32,"y":2.08,"c":"B"},{"x":0.58,"y":2.06,"c":"B"},{"x":0.71,"y":2.08,"c":"B"},{"x":0.97,"y":1.95,"c":"B"},{"x":0.78,"y":1.72,"c":"B"},{"x":0.69,"y":1.67,"c":"B"},{"x":0.66,"y":1.61,"c":"B"},{"x":0.51,"y":1.68,"c":"B"},{"x":0.19,"y":1.72,"c":"B"},{"x":1,"y":1.55,"c":"B"},{"x":1.12,"y":1.55,"c":"B"},{"x":1.21,"y":1.74,"c":"B"},{"x":0.75,"y":1.58,"c":"B"},{"x":0.57,"y":1.45,"c":"B"},{"x":0.4,"y":1.45,"c":"B"},{"x":0.54,"y":1.32,"c":"B"},{"x":0.25,"y":1.41,"c":"B"},{"x":0.76,"y":1.34,"c":"B"},{"x":-0.7,"y":1.95,"c":"B"},{"x":-0.51,"y":1.97,"c":"B"},{"x":-0.65,"y":1.84,"c":"B"},{"x":-0.58,"y":1.82,"c":"B"},{"x":-0.5,"y":1.84,"c":"B"},{"x":-0.73,"y":1.68,"c":"B"},{"x":-0.64,"y":1.68,"c":"B"},{"x":-0.53,"y":1.68,"c":"B"},{"x":-0.46,"y":1.7,"c":"B"},{"x":-0.41,"y":1.7,"c":"B"},{"x":-0.36,"y":1.7,"c":"B"},{"x":-0.74,"y":1.72,"c":"B"},{"x":-0.65,"y":1.47,"c":"B"},{"x":-0.65,"y":1.38,"c":"B"},{"x":-0.79,"y":1.36,"c":"B"},{"x":-0.54,"y":1.38,"c":"B"},{"x":-0.26,"y":1.35,"c":"B"},{"x":-0.23,"y":1.48,"c":"B"},{"x":-0.44,"y":1.33,"c":"B"},{"x":-0.39,"y":1.32,"c":"B"},{"x":-0.34,"y":1.38,"c":"B"},{"x":-0.5,"y":1.43,"c":"B"},
{"x":0.47,"y":3.6,"c":"B","n":"miR-3069-5p"},{"x":-0.98,"y":3.24,"c":"B","n":"let-7b-3p"},{"x":0.9,"y":3.12,"c":"B","n":"miR-383-5p"},{"x":1.84,"y":3.15,"c":"B","n":"miR-155-5p"},{"x":1.53,"y":3.02,"c":"B","n":"miR-344-3p"},{"x":1.84,"y":2.91,"c":"B","n":"miR-9-3p"},{"x":1.5,"y":2.73,"c":"B","n":"miR-149-5p"},{"x":0.66,"y":2.79,"c":"B","n":"miR-384-3p"},{"x":1.36,"y":2.54,"c":"B","n":"miR-136-3p"},{"x":0.76,"y":2.53,"c":"B","n":"miR-409-5p"},{"x":0.31,"y":2.45,"c":"B","n":"miR-7648-5p"},{"x":-0.89,"y":2.56,"c":"B","n":"miR-181b-1-3p"},{"x":-0.45,"y":2.65,"c":"B","n":"miR-30c-2-3p"},{"x":-0.4,"y":2.49,"c":"B","n":"miR-25-5p"},{"x":-0.79,"y":2.2,"c":"B","n":"miR-466l-3p"},{"x":1.12,"y":2.29,"c":"B","n":"miR-1298-5p"},{"x":0.95,"y":2.16,"c":"B","n":"miR-380-3p"},{"x":-0.23,"y":2.11,"c":"B","n":"miR-760-5p"},{"x":-0.13,"y":1.97,"c":"B","n":"miR-1971"},{"x":0.29,"y":2,"c":"B","n":"miR-1966-5p"},{"x":0.87,"y":1.94,"c":"B","n":"miR-204-5p"},{"x":-0.81,"y":1.89,"c":"B","n":"miR-19b-1-5p"},{"x":0.3,"y":1.82,"c":"B","n":"miR-325-5p"},{"x":1.35,"y":1.79,"c":"B","n":"miR-155-3p"},{"x":-0.61,"y":1.72,"c":"B","n":"miR-1187"},{"x":-0.13,"y":1.72,"c":"B","n":"miR-6907-3p"},{"x":0.35,"y":1.68,"c":"B","n":"miR-296-5p"},{"x":0.99,"y":1.65,"c":"B","n":"miR-433-3p"},{"x":1.49,"y":1.64,"c":"B","n":"miR-488-3p"},{"x":-0.99,"y":1.64,"c":"B","n":"let-7c-1-3p"},{"x":-0.3,"y":1.61,"c":"B","n":"miR-7a-1-3p"},{"x":-0.7,"y":1.51,"c":"B","n":"miR-141-3p"},{"x":0.2,"y":1.51,"c":"B","n":"miR-1264-3p"},{"x":0.77,"y":1.49,"c":"B","n":"miR-129-5p"},{"x":-0.34,"y":1.43,"c":"B","n":"miR-27-5p"},{"x":0.14,"y":1.36,"c":"B","n":"miR-346-3p"},{"x":0.88,"y":1.31,"c":"B","n":"miR-342-3p"},{"x":1.43,"y":1.31,"c":"B","n":"miR-410-3p"},{"x":-0.42,"y":1.31,"c":"B","n":"miR-34a-5p"}
],
"volD":[
{"x":-0.105,"y":0.14,"c":"L"},{"x":-0.115,"y":0.15,"c":"L"},{"x":-0.125,"y":0.26,"c":"L"},{"x":-0.105,"y":0.25,"c":"L"},{"x":-0.12,"y":0.36,"c":"L"},{"x":-0.135,"y":0.34,"c":"L"},{"x":-0.105,"y":0.42,"c":"L"},{"x":-0.125,"y":0.46,"c":"L"},{"x":-0.145,"y":0.26,"c":"L"},{"x":-0.155,"y":0.36,"c":"L"},{"x":-0.165,"y":0.46,"c":"L"},{"x":-0.145,"y":0.5,"c":"L"},{"x":-0.105,"y":0.57,"c":"L"},{"x":-0.125,"y":0.6,"c":"L"},{"x":-0.155,"y":0.6,"c":"L"},{"x":-0.175,"y":0.3,"c":"L"},{"x":-0.185,"y":0.4,"c":"L"},{"x":-0.195,"y":0.22,"c":"L"},{"x":-0.175,"y":0.55,"c":"L"},{"x":-0.195,"y":0.5,"c":"L"},{"x":-0.205,"y":0.32,"c":"L"},{"x":-0.215,"y":0.42,"c":"L"},{"x":-0.225,"y":0.5,"c":"L"},{"x":-0.205,"y":0.6,"c":"L"},{"x":-0.185,"y":0.62,"c":"L"},{"x":-0.165,"y":0.74,"c":"L"},{"x":-0.135,"y":0.66,"c":"L"},{"x":-0.115,"y":0.8,"c":"L"},{"x":-0.145,"y":0.78,"c":"L"},{"x":-0.175,"y":0.78,"c":"L"},{"x":-0.205,"y":0.78,"c":"L"},{"x":-0.235,"y":0.38,"c":"L"},{"x":-0.245,"y":0.5,"c":"L"},{"x":-0.255,"y":0.6,"c":"L"},{"x":-0.235,"y":0.74,"c":"L"},{"x":-0.265,"y":0.42,"c":"L"},{"x":-0.275,"y":0.52,"c":"L"},{"x":-0.285,"y":0.68,"c":"L"},{"x":-0.265,"y":0.82,"c":"L"},{"x":-0.305,"y":0.5,"c":"L"},{"x":-0.315,"y":0.72,"c":"L"},{"x":-0.335,"y":0.6,"c":"L"},{"x":-0.345,"y":0.68,"c":"L"},{"x":-0.365,"y":0.55,"c":"L"},{"x":-0.375,"y":0.72,"c":"L"},{"x":-0.295,"y":0.6,"c":"L"},{"x":-0.325,"y":0.86,"c":"L"},{"x":-0.13,"y":0.85,"c":"L"},{"x":-0.16,"y":0.96,"c":"L"},{"x":-0.2,"y":0.9,"c":"L"},{"x":-0.24,"y":0.9,"c":"L"},{"x":-0.29,"y":1,"c":"L"},{"x":-0.35,"y":0.92,"c":"L"},{"x":-0.4,"y":0.78,"c":"L"},{"x":-0.43,"y":0.62,"c":"L"},
{"x":0.105,"y":0.12,"c":"L"},{"x":0.115,"y":0.16,"c":"L"},{"x":0.125,"y":0.22,"c":"L"},{"x":0.105,"y":0.24,"c":"L"},{"x":0.125,"y":0.3,"c":"L"},{"x":0.145,"y":0.22,"c":"L"},{"x":0.155,"y":0.32,"c":"L"},{"x":0.105,"y":0.42,"c":"L"},{"x":0.125,"y":0.48,"c":"L"},{"x":0.155,"y":0.42,"c":"L"},{"x":0.175,"y":0.22,"c":"L"},{"x":0.185,"y":0.28,"c":"L"},{"x":0.195,"y":0.42,"c":"L"},{"x":0.215,"y":0.24,"c":"L"},{"x":0.225,"y":0.4,"c":"L"},{"x":0.245,"y":0.3,"c":"L"},{"x":0.255,"y":0.46,"c":"L"},{"x":0.275,"y":0.38,"c":"L"},{"x":0.295,"y":0.36,"c":"L"},{"x":0.165,"y":0.52,"c":"L"},{"x":0.195,"y":0.56,"c":"L"},{"x":0.225,"y":0.46,"c":"L"},{"x":0.105,"y":0.6,"c":"L"},{"x":0.135,"y":0.68,"c":"L"},{"x":0.315,"y":0.48,"c":"L"},{"x":0.345,"y":0.44,"c":"L"},{"x":0.355,"y":0.58,"c":"L"},
{"x":-0.11,"y":0.02,"c":"L"},{"x":-0.12,"y":0.08,"c":"L"},{"x":-0.13,"y":0.05,"c":"L"},{"x":-0.14,"y":0.12,"c":"L"},{"x":-0.15,"y":0.18,"c":"L"},{"x":-0.16,"y":0.1,"c":"L"},{"x":-0.17,"y":0.06,"c":"L"},{"x":-0.12,"y":0.22,"c":"L"},{"x":-0.11,"y":0.32,"c":"L"},{"x":-0.13,"y":0.3,"c":"L"},{"x":-0.14,"y":0.42,"c":"L"},{"x":-0.12,"y":0.52,"c":"L"},{"x":-0.16,"y":0.28,"c":"L"},{"x":-0.18,"y":0.18,"c":"L"},{"x":-0.19,"y":0.3,"c":"L"},{"x":-0.17,"y":0.4,"c":"L"},{"x":-0.18,"y":0.5,"c":"L"},{"x":-0.15,"y":0.58,"c":"L"},{"x":-0.11,"y":0.65,"c":"L"},{"x":-0.13,"y":0.74,"c":"L"},{"x":-0.16,"y":0.68,"c":"L"},{"x":-0.21,"y":0.38,"c":"L"},{"x":-0.22,"y":0.2,"c":"L"},{"x":-0.23,"y":0.3,"c":"L"},{"x":-0.2,"y":0.54,"c":"L"},{"x":-0.24,"y":0.45,"c":"L"},{"x":-0.2,"y":0.7,"c":"L"},{"x":-0.15,"y":0.85,"c":"L"},{"x":-0.12,"y":0.96,"c":"L"},{"x":-0.11,"y":1.12,"c":"L"},{"x":-0.14,"y":1.05,"c":"L"},{"x":-0.18,"y":0.9,"c":"L"},{"x":-0.23,"y":0.65,"c":"L"},{"x":-0.26,"y":0.25,"c":"L"},{"x":-0.27,"y":0.38,"c":"L"},{"x":-0.26,"y":0.52,"c":"L"},{"x":-0.28,"y":0.62,"c":"L"},{"x":-0.29,"y":0.74,"c":"L"},{"x":-0.23,"y":0.82,"c":"L"},{"x":-0.25,"y":0.96,"c":"L"},{"x":-0.2,"y":1.08,"c":"L"},{"x":-0.17,"y":1.2,"c":"L"},{"x":-0.3,"y":0.32,"c":"L"},{"x":-0.31,"y":0.44,"c":"L"},{"x":-0.32,"y":0.55,"c":"L"},{"x":-0.33,"y":0.66,"c":"L"},{"x":-0.31,"y":0.8,"c":"L"},{"x":-0.29,"y":0.9,"c":"L"},{"x":-0.34,"y":1,"c":"L"},{"x":-0.27,"y":1.15,"c":"L"},{"x":-0.35,"y":0.3,"c":"L"},{"x":-0.36,"y":0.48,"c":"L"},{"x":-0.37,"y":0.6,"c":"L"},{"x":-0.35,"y":0.72,"c":"L"},{"x":-0.38,"y":0.84,"c":"L"},{"x":-0.32,"y":1.2,"c":"L"},{"x":-0.4,"y":0.36,"c":"L"},{"x":-0.42,"y":0.5,"c":"L"},{"x":-0.39,"y":0.66,"c":"L"},{"x":-0.44,"y":0.76,"c":"L"},{"x":-0.4,"y":0.94,"c":"L"},{"x":-0.42,"y":1.1,"c":"L"},{"x":-0.38,"y":1.25,"c":"L"},{"x":-0.46,"y":0.3,"c":"L"},{"x":-0.47,"y":0.55,"c":"L"},{"x":-0.45,"y":0.9,"c":"L"},{"x":-0.49,"y":0.68,"c":"L"},{"x":-0.5,"y":1,"c":"L"},{"x":-0.47,"y":1.2,"c":"L"},{"x":-0.52,"y":0.42,"c":"L"},{"x":-0.54,"y":0.78,"c":"L"},{"x":-0.56,"y":1.05,"c":"L"},{"x":-0.53,"y":1.27,"c":"L"},{"x":-0.57,"y":0.6,"c":"L"},{"x":-0.59,"y":0.9,"c":"L"},{"x":-0.6,"y":1.15,"c":"L"},{"x":-0.63,"y":0.74,"c":"L"},{"x":-0.65,"y":1,"c":"L"},{"x":-0.68,"y":1.2,"c":"L"},{"x":-0.67,"y":0.55,"c":"L"},{"x":-0.7,"y":0.85,"c":"L"},{"x":-0.74,"y":1.05,"c":"L"},{"x":-0.72,"y":0.65,"c":"L"},{"x":-0.85,"y":0.42,"c":"L"},{"x":-0.87,"y":0.3,"c":"L"},{"x":-0.88,"y":0.8,"c":"L"},{"x":-0.77,"y":0.7,"c":"L"},{"x":-0.79,"y":0.97,"c":"L"},{"x":-0.58,"y":0.3,"c":"L"},{"x":-0.5,"y":0.23,"c":"L"},{"x":-0.52,"y":0.25,"c":"L"},{"x":-0.31,"y":0.12,"c":"L"},{"x":-0.2,"y":0.12,"c":"L"},{"x":-0.61,"y":0.4,"c":"L"},{"x":-0.25,"y":0.4,"c":"L"},{"x":-0.21,"y":0.28,"c":"L"},{"x":-0.28,"y":0.48,"c":"L"},{"x":-0.34,"y":0.4,"c":"L"},{"x":-0.24,"y":0.58,"c":"L"},{"x":-0.19,"y":0.42,"c":"L"},{"x":-0.16,"y":0.52,"c":"L"},{"x":-0.33,"y":0.52,"c":"L"},{"x":-0.38,"y":0.55,"c":"L"},{"x":-0.43,"y":0.62,"c":"L"},{"x":-0.48,"y":0.42,"c":"L"},{"x":-0.8,"y":1.15,"c":"L"},{"x":-0.7,"y":1.22,"c":"L"},
{"x":0.11,"y":0.03,"c":"L"},{"x":0.12,"y":0.08,"c":"L"},{"x":0.13,"y":0.04,"c":"L"},{"x":0.14,"y":0.1,"c":"L"},{"x":0.15,"y":0.16,"c":"L"},{"x":0.12,"y":0.22,"c":"L"},{"x":0.11,"y":0.33,"c":"L"},{"x":0.13,"y":0.38,"c":"L"},{"x":0.16,"y":0.25,"c":"L"},{"x":0.18,"y":0.16,"c":"L"},{"x":0.17,"y":0.34,"c":"L"},{"x":0.14,"y":0.48,"c":"L"},{"x":0.12,"y":0.58,"c":"L"},{"x":0.2,"y":0.24,"c":"L"},{"x":0.19,"y":0.35,"c":"L"},{"x":0.22,"y":0.32,"c":"L"},{"x":0.18,"y":0.46,"c":"L"},{"x":0.15,"y":0.62,"c":"L"},{"x":0.11,"y":0.78,"c":"L"},{"x":0.13,"y":0.92,"c":"L"},{"x":0.12,"y":1.05,"c":"L"},{"x":0.11,"y":1.2,"c":"L"},{"x":0.16,"y":0.82,"c":"L"},{"x":0.2,"y":0.48,"c":"L"},{"x":0.24,"y":0.24,"c":"L"},{"x":0.25,"y":0.38,"c":"L"},{"x":0.23,"y":0.52,"c":"L"},{"x":0.21,"y":0.68,"c":"L"},{"x":0.27,"y":0.48,"c":"L"},{"x":0.28,"y":0.28,"c":"L"},{"x":0.3,"y":0.4,"c":"L"},{"x":0.27,"y":0.62,"c":"L"},{"x":0.24,"y":0.82,"c":"L"},{"x":0.19,"y":0.98,"c":"L"},{"x":0.26,"y":0.98,"c":"L"},{"x":0.32,"y":0.3,"c":"L"},{"x":0.33,"y":0.52,"c":"L"},{"x":0.31,"y":0.72,"c":"L"},{"x":0.29,"y":0.92,"c":"L"},{"x":0.25,"y":1.15,"c":"L"},{"x":0.36,"y":0.36,"c":"L"},{"x":0.38,"y":0.5,"c":"L"},{"x":0.36,"y":0.68,"c":"L"},{"x":0.34,"y":0.86,"c":"L"},{"x":0.32,"y":1.08,"c":"L"},{"x":0.4,"y":0.34,"c":"L"},{"x":0.42,"y":0.45,"c":"L"},{"x":0.41,"y":0.62,"c":"L"},{"x":0.39,"y":0.82,"c":"L"},{"x":0.37,"y":1,"c":"L"},{"x":0.36,"y":1.22,"c":"L"},{"x":0.46,"y":0.42,"c":"L"},{"x":0.47,"y":0.58,"c":"L"},{"x":0.45,"y":0.75,"c":"L"},{"x":0.43,"y":0.98,"c":"L"},{"x":0.41,"y":1.14,"c":"L"},{"x":0.49,"y":0.88,"c":"L"},{"x":0.48,"y":1.08,"c":"L"},{"x":0.52,"y":0.4,"c":"L"},{"x":0.51,"y":0.66,"c":"L"},{"x":0.55,"y":0.82,"c":"L"},{"x":0.53,"y":1.25,"c":"L"},{"x":0.54,"y":1.05,"c":"L"},{"x":0.57,"y":0.62,"c":"L"},{"x":0.59,"y":0.5,"c":"L"},{"x":0.6,"y":0.7,"c":"L"},{"x":0.56,"y":0.85,"c":"L"},{"x":0.61,"y":0.5,"c":"L"},{"x":0.66,"y":0.42,"c":"L"},{"x":0.7,"y":0.4,"c":"L"},{"x":0.65,"y":0.9,"c":"L"},{"x":0.58,"y":1.02,"c":"L"},{"x":0.62,"y":1.06,"c":"L"},{"x":0.73,"y":1.18,"c":"L"},{"x":0.8,"y":1.09,"c":"L"},{"x":0.83,"y":0.99,"c":"L"},{"x":0.85,"y":0.75,"c":"L"},{"x":1.25,"y":0.42,"c":"L"},{"x":0.16,"y":0.2,"c":"L"},{"x":0.22,"y":0.14,"c":"L"},{"x":0.14,"y":0.3,"c":"L"},{"x":0.17,"y":0.24,"c":"L"},{"x":0.3,"y":0.15,"c":"L"},{"x":0.68,"y":1.22,"c":"L"},{"x":0.15,"y":1.2,"c":"L"},
{"x":0,"y":0,"c":"N"},{"x":0.01,"y":0.01,"c":"N"},{"x":-0.01,"y":0.02,"c":"N"},{"x":-0.02,"y":0.01,"c":"N"},{"x":0.02,"y":0.02,"c":"N"},{"x":-0.03,"y":0.04,"c":"N"},{"x":0.03,"y":0.05,"c":"N"},{"x":-0.04,"y":0.08,"c":"N"},{"x":0.04,"y":0.09,"c":"N"},{"x":-0.05,"y":0.15,"c":"N"},{"x":0.05,"y":0.16,"c":"N"},{"x":-0.06,"y":0.22,"c":"N"},{"x":0.06,"y":0.24,"c":"N"},{"x":-0.07,"y":0.32,"c":"N"},{"x":0.07,"y":0.34,"c":"N"},{"x":-0.08,"y":0.42,"c":"N"},{"x":0.08,"y":0.47,"c":"N"},{"x":-0.09,"y":0.55,"c":"N"},{"x":0.09,"y":0.58,"c":"N"},{"x":-0.085,"y":0.65,"c":"N"},{"x":0.085,"y":0.72,"c":"N"},{"x":-0.08,"y":0.8,"c":"N"},{"x":0.09,"y":0.82,"c":"N"},{"x":-0.085,"y":0.95,"c":"N"},{"x":0.08,"y":0.95,"c":"N"},{"x":-0.08,"y":1.2,"c":"N"},{"x":0.07,"y":1.2,"c":"N"},{"x":0.085,"y":1.2,"c":"N"},{"x":-0.09,"y":0.72,"c":"N"},{"x":-0.075,"y":0.2,"c":"N"},{"x":0.07,"y":0.15,"c":"N"},{"x":-0.015,"y":0,"c":"N"},{"x":0.015,"y":0,"c":"N"},{"x":-0.035,"y":0.02,"c":"N"},{"x":0.035,"y":0.02,"c":"N"},{"x":-0.06,"y":0.1,"c":"N"},{"x":0.06,"y":0.08,"c":"N"},{"x":0,"y":0.01,"c":"N"},{"x":-0.025,"y":0.03,"c":"N"},{"x":0.025,"y":0.03,"c":"N"},{"x":-0.05,"y":0.05,"c":"N"},{"x":0.05,"y":0.05,"c":"N"},{"x":-0.07,"y":0.14,"c":"N"},{"x":0.08,"y":0.25,"c":"N"},{"x":-0.09,"y":0.4,"c":"N"},{"x":0.09,"y":0.4,"c":"N"},{"x":-0.09,"y":0.3,"c":"N"},{"x":0.09,"y":0.32,"c":"N"},{"x":-0.085,"y":0.48,"c":"N"},{"x":0.085,"y":0.52,"c":"N"},{"x":-0.07,"y":0.06,"c":"N"},{"x":0.07,"y":0.07,"c":"N"},{"x":-0.04,"y":0.03,"c":"N"},{"x":0.04,"y":0.03,"c":"N"},
{"x":0.72,"y":3.3,"c":"B"},{"x":0.76,"y":3.43,"c":"B"},{"x":0.97,"y":3.54,"c":"B"},{"x":1.21,"y":3.52,"c":"B"},{"x":1.33,"y":3.98,"c":"B"},{"x":1.87,"y":3.96,"c":"B"},{"x":0.23,"y":2.76,"c":"B"},{"x":0.23,"y":2.76,"c":"B"},{"x":0.34,"y":2.86,"c":"B"},{"x":0.14,"y":2.52,"c":"B"},{"x":0.24,"y":2.1,"c":"B"},{"x":0.22,"y":1.8,"c":"B"},{"x":0.49,"y":2.33,"c":"B"},{"x":0.65,"y":2.33,"c":"B"},{"x":0.57,"y":2.68,"c":"B"},{"x":0.57,"y":2.6,"c":"B"},{"x":0.77,"y":2.58,"c":"B"},{"x":0.77,"y":2.5,"c":"B"},{"x":0.88,"y":2.55,"c":"B"},{"x":0.94,"y":2.62,"c":"B"},{"x":1.02,"y":2.7,"c":"B"},{"x":1.1,"y":2.7,"c":"B"},{"x":1.2,"y":2.62,"c":"B"},{"x":1.02,"y":2.36,"c":"B"},{"x":0.98,"y":2.18,"c":"B"},{"x":1.07,"y":2.25,"c":"B"},{"x":0.8,"y":2.2,"c":"B"},{"x":0.7,"y":2.17,"c":"B"},{"x":0.64,"y":2.1,"c":"B"},{"x":0.71,"y":1.93,"c":"B"},{"x":0.72,"y":1.87,"c":"B"},{"x":0.85,"y":1.77,"c":"B"},{"x":0.78,"y":1.7,"c":"B"},{"x":0.63,"y":1.7,"c":"B"},{"x":0.59,"y":1.7,"c":"B"},{"x":0.56,"y":1.5,"c":"B"},{"x":0.63,"y":1.53,"c":"B"},{"x":0.73,"y":1.53,"c":"B"},{"x":0.95,"y":1.48,"c":"B"},{"x":0.92,"y":1.55,"c":"B"},{"x":0.83,"y":1.56,"c":"B"},{"x":0.71,"y":1.5,"c":"B"},{"x":0.75,"y":1.42,"c":"B"},{"x":0.82,"y":1.4,"c":"B"},{"x":0.69,"y":1.33,"c":"B"},{"x":0.78,"y":1.31,"c":"B"},{"x":0.45,"y":1.35,"c":"B"},{"x":0.3,"y":1.32,"c":"B"},{"x":0.39,"y":1.35,"c":"B"},{"x":0.22,"y":1.3,"c":"B"},{"x":1.1,"y":1.97,"c":"B"},{"x":1.11,"y":1.78,"c":"B"},{"x":0.32,"y":1.75,"c":"B"},
{"x":-0.72,"y":3.75,"c":"B"},{"x":-0.61,"y":3.36,"c":"B"},{"x":-0.6,"y":3.33,"c":"B"},{"x":-0.55,"y":3.27,"c":"B"},{"x":-0.93,"y":3.15,"c":"B"},{"x":-0.78,"y":3.18,"c":"B"},{"x":-0.96,"y":2.84,"c":"B"},{"x":-0.48,"y":2.85,"c":"B"},{"x":-0.55,"y":2.6,"c":"B"},{"x":-0.25,"y":2.56,"c":"B"},{"x":-0.96,"y":2.45,"c":"B"},{"x":-0.66,"y":2.45,"c":"B"},{"x":-0.52,"y":2.42,"c":"B"},{"x":-0.52,"y":2.3,"c":"B"},{"x":-0.9,"y":2.38,"c":"B"},{"x":-0.8,"y":2.2,"c":"B"},{"x":-0.66,"y":2.25,"c":"B"},{"x":-0.45,"y":2.15,"c":"B"},{"x":-0.5,"y":2.15,"c":"B"},{"x":-0.88,"y":2.07,"c":"B"},{"x":-0.72,"y":2,"c":"B"},{"x":-0.56,"y":1.95,"c":"B"},{"x":-0.52,"y":1.93,"c":"B"},{"x":-0.42,"y":1.8,"c":"B"},{"x":-0.82,"y":1.7,"c":"B"},{"x":-0.7,"y":1.75,"c":"B"},{"x":-0.6,"y":1.65,"c":"B"},{"x":-0.5,"y":1.72,"c":"B"},{"x":-0.37,"y":1.72,"c":"B"},{"x":-0.3,"y":1.7,"c":"B"},{"x":-0.85,"y":1.5,"c":"B"},{"x":-0.9,"y":1.42,"c":"B"},{"x":-0.86,"y":1.36,"c":"B"},{"x":-0.8,"y":1.37,"c":"B"},{"x":-0.68,"y":1.5,"c":"B"},{"x":-0.6,"y":1.45,"c":"B"},{"x":-0.46,"y":1.35,"c":"B"},{"x":-0.4,"y":1.32,"c":"B"},{"x":-0.29,"y":1.3,"c":"B"},{"x":-0.24,"y":1.48,"c":"B"},{"x":-0.58,"y":1.31,"c":"B"},{"x":-0.82,"y":1.32,"c":"B"},
{"x":0.63,"y":3.98,"c":"B","n":"miR-379-3p"},{"x":0.72,"y":3.86,"c":"B","n":"miR-29a-3p"},{"x":0.51,"y":3.72,"c":"B","n":"miR-448-3p"},{"x":1.24,"y":3.96,"c":"B","n":"miR-470-3p"},{"x":1.3,"y":3.83,"c":"B","n":"miR-10b-5p"},{"x":1.19,"y":3.72,"c":"B","n":"miR-200a-3p"},{"x":1.7,"y":3.96,"c":"B","n":"miR-152-3p"},{"x":1.01,"y":3.48,"c":"B","n":"miR-137-3p"},{"x":0.97,"y":3.38,"c":"B","n":"miR-125b-1-3p"},{"x":0.63,"y":3.14,"c":"B","n":"miR-129-1-3p"},{"x":1.33,"y":3.15,"c":"B","n":"miR-92b-3p"},{"x":0.84,"y":2.99,"c":"B","n":"miR-3045-3p"},{"x":0.3,"y":3.02,"c":"B","n":"miR-6908-3p"},{"x":0.87,"y":2.85,"c":"B","n":"miR-7685-5p"},{"x":0.43,"y":2.79,"c":"B","n":"miR-187-5p"},{"x":0.84,"y":2.67,"c":"B","n":"miR-21a-5p"},{"x":1.16,"y":2.57,"c":"B","n":"miR-130b-5p"},{"x":1.59,"y":2.62,"c":"B","n":"miR-155-5p"},{"x":0.39,"y":2.49,"c":"B","n":"miR-3072-3p"},{"x":1.39,"y":2.43,"c":"B","n":"miR-138-5p"},{"x":0.53,"y":2.39,"c":"B","n":"miR-125b-3p"},{"x":1.19,"y":2.27,"c":"B","n":"miR-145a-5p"},{"x":0.16,"y":2.24,"c":"B","n":"miR-133a-5p"},{"x":0.58,"y":2.22,"c":"B","n":"miR-148a-5p"},{"x":0.57,"y":2.08,"c":"B","n":"miR-181a-5p"},{"x":0.36,"y":1.97,"c":"B","n":"miR-135a-1-3p"},{"x":0.91,"y":1.99,"c":"B","n":"miR-182-5p"},{"x":0.36,"y":1.85,"c":"B","n":"miR-153-5p"},{"x":1.19,"y":1.73,"c":"B","n":"miR-10a-5p"},{"x":0.28,"y":1.62,"c":"B","n":"miR-4197-3p"},{"x":0.87,"y":1.56,"c":"B","n":"miR-200b-3p"},{"x":1.43,"y":1.54,"c":"B","n":"miR-6240"},{"x":0.23,"y":1.46,"c":"B","n":"miR-1251-5p"},{"x":0.56,"y":1.36,"c":"B","n":"miR-191a-3p"},
{"x":-0.54,"y":3.69,"c":"B","n":"miR-25-5p"},{"x":-0.77,"y":3.31,"c":"B","n":"miR-466e-5p"},{"x":-0.87,"y":3.17,"c":"B","n":"miR-3068-5p"},{"x":-0.79,"y":3.06,"c":"B","n":"miR-467-3p"},{"x":-0.69,"y":2.97,"c":"B","n":"miR-24-1-5p"},{"x":-0.81,"y":2.81,"c":"B","n":"miR-297b-5p"},{"x":-0.81,"y":2.69,"c":"B","n":"miR-322-5p"},{"x":-0.57,"y":2.52,"c":"B","n":"miR-3091-5p"},{"x":-0.74,"y":2.37,"c":"B","n":"miR-181a-1-3p"},{"x":-0.9,"y":2.26,"c":"B","n":"miR-128a-3p"},{"x":-0.39,"y":2.26,"c":"B","n":"miR-30c-2-3p"},{"x":-0.71,"y":2.17,"c":"B","n":"miR-185-5p"},{"x":-0.31,"y":2.11,"c":"B","n":"miR-2472"},{"x":-0.85,"y":2.01,"c":"B","n":"miR-19b-1-5p"},{"x":-0.13,"y":1.97,"c":"B","n":"miR-1971"},{"x":-0.53,"y":1.88,"c":"B","n":"miR-421-3p"},{"x":-1,"y":1.9,"c":"B","n":"miR-467c-3p"},{"x":-0.91,"y":1.8,"c":"B","n":"miR-18b-5p"},{"x":-0.64,"y":1.71,"c":"B","n":"let-7a-3p"},{"x":-0.17,"y":1.71,"c":"B","n":"miR-6974-3p"},{"x":-0.8,"y":1.59,"c":"B","n":"miR-1306-5p"},{"x":-0.36,"y":1.59,"c":"B","n":"miR-27-5p"},{"x":-0.52,"y":1.46,"c":"B","n":"miR-142a-3p"},{"x":-0.64,"y":1.36,"c":"B","n":"let-7g-3p"},{"x":-0.18,"y":1.3,"c":"B","n":"miR-7046-5p"}
]
},
"spacing":7,"hconcat":[
{"spacing":0,"hconcat":[
{"width":61,"height":933,"layer":[
{"data":{"name":"tree"},"mark":{"type":"rule","color":"#555","strokeWidth":0.8},"encoding":{"x":{"field":"d","type":"quantitative","scale":{"domain":[0,61],"nice":false},"axis":null},"y":{"field":"a","type":"quantitative","scale":{"domain":[-5.87,181.1],"nice":false,"zero":false,"reverse":true},"axis":null},"y2":{"field":"b"}}},
{"data":{"name":"tree"},"mark":{"type":"rule","color":"#555","strokeWidth":0.8},"encoding":{"x":{"field":"d","type":"quantitative"},"x2":{"field":"p"},"y":{"field":"a","type":"quantitative"}}},
{"data":{"name":"tree"},"mark":{"type":"rule","color":"#555","strokeWidth":0.8},"encoding":{"x":{"field":"d","type":"quantitative"},"x2":{"field":"q"},"y":{"field":"b","type":"quantitative"}}},
{"data":{"values":[{"d":0,"a":-4.7,"t":"A"}]},"mark":{"type":"text","fontWeight":"bold","fontSize":13,"align":"left"},"encoding":{"x":{"field":"d","type":"quantitative"},"y":{"field":"a","type":"quantitative"},"text":{"field":"t"}}}
]},
{"spacing":3,"vconcat":[
{"width":200,"height":26,"data":{"values":[{"s":"S1","g":"SCFA+JEV (6 HPI)","t":"GROUP"},{"s":"S2","g":"SCFA+JEV (6 HPI)","t":"GROUP"},{"s":"S3","g":"SCFA+JEV (6 HPI)","t":"GROUP"},{"s":"J1","g":"JEV (6 HPI)","t":"GROUP"},{"s":"J2","g":"JEV (6 HPI)","t":"GROUP"},{"s":"J3","g":"JEV (6 HPI)","t":"GROUP"}]},"mark":"rect","encoding":{"x":{"field":"s","type":"nominal","sort":null,"axis":null,"scale":{"paddingInner":0,"paddingOuter":0}},"y":{"field":"t","type":"nominal","scale":{"paddingInner":0,"paddingOuter":0.76,"align":1},"axis":{"orient":"right","title":null,"ticks":false,"domain":false,"labelFontWeight":"bold","labelFontSize":10.5,"labelColor":"#222","labelPadding":3}},"color":{"field":"g","type":"nominal","scale":{"domain":["JEV (6 HPI)","SCFA+JEV (6 HPI)"],"range":["#00dbe6","#ff918a"]},"legend":null}}},
{"width":200,"height":798,"encoding":{"x":{"field":"s","type":"nominal","scale":{"domain":["S1","S2","S3","J1","J2","J3"],"paddingInner":0,"paddingOuter":0},"axis":{"title":"6 HPI","titleFontSize":11,"titleFontWeight":"normal","titleColor":"#222","titlePadding":28,"labelAngle":90,"labelFontSize":10.5,"labelColor":"#222","labelPadding":6,"ticks":false,"domain":false,"labelExpr":"indexof(datum.label,'S')==0?'SCFA+JEV':'JEV'"}},"y":{"field":"m","type":"nominal","scale":{"paddingInner":0,"paddingOuter":0,"domain":["592-5p","455-3p","423-5p","1964-3p","1117-5p","342-3p","411-3p","217-5p","370-3p","410-3p","6540-5p","344-3p","3441-3p","449a-5p","6954-5p","187-3p","384-3p","4675-5p","129-3p","6516-5p","708-3p","495-3p","300-3p","434-3p","323-3p","381-3p","143-3p","340-5p","127-3p","770-5p","218-5p","9-5p","124-3p","379-5p","148a-3p","541-5p","382-5p","708-5p","204-5p","9-3p","133a-3p","149a-3p","1966-5p","3195-5p","128-3p","149-5p","383-5p","136-5p","135a-5p","211-3p","3085-3p","386","677-3p","145a-5p","182-5p","6957-5p","6934-5p","6952-5p","488-5p","299a-3p","299b-3p","369-3p","181c-5p","337-3p","409-3p","154-3p","136-3p","134-5p","1298-5p","211-5p","138-3p","130a-3p","147-5p","344c-3p","758","490-3p","673a-5p","1247-3p","296-5p","409-5p","468-3p","129-1-3p","341-3p","1982-3p","1185-3p","320a-3p","204-3p","3085-5p","7075-3p","433-3p","125c-1-3p","543-3p","106-5p","3970","8010-3p","6985-5p","let-7k","10b-5p","380-5p","92b-3p","152-3p","199a-5p","295-3p","200-3p","212-3p","1497-3p","7091-5p","1815-5p","185-3p","200b-3p","431-3p","194-3p","920-3p","150-3p","349-5p","1946b","5615-5p","6925-3p","155-3p","6924-5p","1249-5p","1187","6992-5p","503-5p","5097-3p","6937-3p","712-3p","347-3p","6896-5p","1931","6349","103-2-5p","338-3p","1839-3p","6922-3p","6552-3p","3960-3p","6948-3p","1258","4506-5p","6933-3p","33-3p","466f","466i-5p","466k","466q-5p","466c-5p","3963","186-3p","702-3p","6966-3p","210-5p","7234-3p","351-3p","321-3p","328-5p","7658-3p","7687-5p","6538","7116-3p"]},"axis":{"orient":"right","title":null,"ticks":false,"domain":false,"labelFontSize":6.2,"labelColor":"#444","labelPadding":3,"labelOverlap":false,"labelExpr":"indexof(datum.label,'let')==0?'mmu-'+datum.label:'mmu-miR-'+datum.label"}}},"layer":[
{"data":{"name":"heat"},"mark":{"type":"rect","strokeWidth":0.4},"encoding":{"color":{"field":"v","type":"quantitative","scale":{"domain":[-2,0,2],"range":["#009a00","#ffff00","#f23030"]},"legend":null},"stroke":{"field":"v","type":"quantitative","scale":{"domain":[-2,0,2],"range":["#009a00","#ffff00","#f23030"]},"legend":null}}},
{"data":{"values":[{"m":"3085-5p","s":"S1","t":"C"}]},"mark":{"type":"text","fontWeight":"bold","fontSize":10,"dx":12,"font":"Lato","color":"#111"},"encoding":{"text":{"field":"t"}}}
]}
]}
]},
{"spacing":16,"vconcat":[
{"width":321,"height":240,"resolve":{"scale":{"color":"independent"},"legend":{"color":"independent"}},"layer":[
{"data":{"values":[{"set":"JEV vs Con","x":146.3,"y":90.5},{"set":"SCFA vs Con","x":223.8,"y":90.5},{"set":"SCFA+JEV vs Con","x":185,"y":157.7}]},"mark":{"type":"point","filled":true,"size":14000,"fillOpacity":0.5,"stroke":"black","strokeWidth":0.7,"strokeOpacity":1,"opacity":1},"encoding":{"x":{"field":"x","type":"quantitative","scale":{"domain":[0,321],"nice":false},"axis":null},"y":{"field":"y","type":"quantitative","scale":{"domain":[0,240],"nice":false,"reverse":true},"axis":null},"color":{"field":"set","type":"nominal","scale":{"domain":["JEV vs Con","SCFA vs Con","SCFA+JEV vs Con"],"range":["#0000ff","#ffff00","#00ff00"]},"legend":null}}},
{"data":{"values":[{"n":23,"x":133.7,"y":77.3},{"n":4,"x":185.3,"y":77.3},{"n":42,"x":236.7,"y":77.3},{"n":14,"x":185.3,"y":111.7},{"n":55,"x":153,"y":130},{"n":65,"x":217.7,"y":130},{"n":95,"x":185.3,"y":170}]},"mark":{"type":"text","font":"Liberation Serif","fontWeight":"bold","fontSize":7.5,"color":"#111"},"encoding":{"x":{"field":"x","type":"quantitative"},"y":{"field":"y","type":"quantitative"},"text":{"field":"n"}}},
{"data":{"values":[{"t":"JEV vs Con","x":133.3,"y":12},{"t":"SCFA vs Con","x":236,"y":12},{"t":"SCFA+JEV vs Con","x":185,"y":235}]},"mark":{"type":"text","font":"Liberation Serif","fontWeight":"bold","fontSize":7.5},"encoding":{"x":{"field":"x","type":"quantitative"},"y":{"field":"y","type":"quantitative"},"text":{"field":"t"},"color":{"field":"t","type":"nominal","scale":{"domain":["JEV vs Con","SCFA vs Con","SCFA+JEV vs Con"],"range":["#3c3ce0","#8c8a3c","#2e9e3e"]},"legend":null}}},
{"data":{"values":[{"t":"B","x":61,"y":27,"f":13},{"t":"JEV vs Control −","x":-1,"y":233,"f":11}]},"mark":{"type":"text","align":"left","font":"Lato","color":"#111"},"encoding":{"x":{"field":"x","type":"quantitative"},"y":{"field":"y","type":"quantitative"},"text":{"field":"t"},"size":{"field":"f","type":"quantitative","scale":null}}},
{"data":{"values":[{"v":-2,"x":0,"y":0},{"v":2,"x":0,"y":0}]},"mark":{"type":"point","size":0,"filled":true,"opacity":1},"encoding":{"x":{"field":"x","type":"quantitative"},"y":{"field":"y","type":"quantitative"},"color":{"field":"v","type":"quantitative","scale":{"domain":[-2,0,2],"range":["#009a00","#ffff00","#f23030"]},"legend":{"orient":"none","legendX":-101,"legendY":14,"title":null,"gradientLength":157,"gradientThickness":10,"values":[-2,-1,0,1,2],"labelFontSize":10,"labelColor":"#222"}}}},
{"data":{"values":[{"g":"JEV (6 HPI)","x":0,"y":0},{"g":"SCFA+JEV (6 HPI)","x":0,"y":0}]},"mark":{"type":"point","size":0,"filled":true,"opacity":1},"encoding":{"x":{"field":"x","type":"quantitative"},"y":{"field":"y","type":"quantitative"},"color":{"field":"g","type":"nominal","scale":{"domain":["JEV (6 HPI)","SCFA+JEV (6 HPI)"],"range":["#00dbe6","#ff918a"]},"legend":{"orient":"none","legendX":-72,"legendY":10,"title":"GROUP","titleFontSize":10.5,"titleColor":"#222","symbolType":"square","symbolSize":225,"symbolOpacity":1,"labelFontSize":10.5,"labelColor":"#222","labelOffset":14,"rowPadding":0,"symbolStrokeWidth":0}}}}
]},
{"spacing":37,"vconcat":[
{"width":321,"height":208.3,"resolve":{"scale":{"color":"independent"},"legend":{"color":"independent"}},"layer":[
{"data":{"name":"volC"},"mark":{"type":"point","filled":true,"size":30,"opacity":0.5},"encoding":{"x":{"field":"x","type":"quantitative","scale":{"domain":[-1.2067,2.16],"nice":false},"axis":{"title":"Log₂ fold change","titleFontSize":11.5,"titleFontWeight":"normal","titleColor":"#333","titlePadding":4,"values":[-1,-0.5,0,0.5,1,1.5,2],"labelExpr":"datum.value%1==0?(datum.value<0?'−1':datum.label):''","labelFontSize":11,"labelColor":"#555","domainColor":"#555","domainWidth":1.4,"tickColor":"#555","gridColor":{"condition":{"test":"datum.value%1==0","value":"#e6e6e6"},"value":"#f3f3f3"},"tickOpacity":{"condition":{"test":"datum.value%1==0","value":1},"value":0}}},"y":{"field":"y","type":"quantitative","scale":{"domain":[-0.2246,4.189],"nice":false,"zero":false},"axis":{"title":"−Log₁₀ P","titleFontSize":11.5,"titleFontWeight":"normal","titleColor":"#333","titlePadding":4,"offset":-4,"values":[0,0.5,1,1.5,2,2.5,3,3.5,4],"labelExpr":"datum.value%1==0?datum.label:''","labelFontSize":11,"labelColor":"#555","domainColor":"#555","domainWidth":1.4,"tickColor":"#555","gridColor":{"condition":{"test":"datum.value%1==0","value":"#e6e6e6"},"value":"#f3f3f3"},"tickOpacity":{"condition":{"test":"datum.value%1==0","value":1},"value":0}}},"color":{"field":"c","type":"nominal","scale":{"domain":["N","L","P","B"],"range":["#333333","#228b22","#4169e1","#ee2a00"]},"legend":{"orient":"none","legendX":41,"legendY":-33,"direction":"horizontal","columns":4,"title":null,"gridAlign":"none","symbolSize":50,"labelFontSize":9.5,"labelColor":"#333","columnPadding":8,"labelExpr":"{'N':'NS','L':'Log₂ FC','P':'p − value','B':'p − value and log₂ FC'}[datum.label]"}}}},
{"data":{"values":[{"v":-0.1},{"v":0.1}]},"mark":{"type":"rule","strokeDash":[3,2],"color":"#555","strokeWidth":0.7},"encoding":{"x":{"field":"v","type":"quantitative"}}},
{"data":{"values":[{"v":1.301}]},"mark":{"type":"rule","strokeDash":[3,2],"color":"#555","strokeWidth":0.7},"encoding":{"y":{"field":"v","type":"quantitative"}}},
{"data":{"name":"volC"},"transform":[{"filter":"datum.n"}],"mark":{"type":"text","fontSize":6.4,"color":"#222"},"encoding":{"x":{"field":"x","type":"quantitative"},"y":{"field":"y","type":"quantitative"},"text":{"field":"n"}}},
{"data":{"values":[{"x":-1.354,"y":4.99,"t":"C"}]},"mark":{"type":"text","fontWeight":"bold","fontSize":13,"font":"Lato"},"encoding":{"x":{"field":"x","type":"quantitative"},"y":{"field":"y","type":"quantitative"},"text":{"field":"t"}}},
{"data":{"values":[{"x":2.057,"y":-1.05,"t":"total = 1446 variables"}]},"mark":{"type":"text","align":"right","fontSize":8.2,"color":"#333"},"encoding":{"x":{"field":"x","type":"quantitative"},"y":{"field":"y","type":"quantitative"},"text":{"field":"t"}}}
]},
{"width":316,"height":212.4,"resolve":{"scale":{"color":"independent"},"legend":{"color":"independent"}},"layer":[
{"data":{"name":"volD"},"mark":{"type":"point","filled":true,"size":30,"opacity":0.5},"encoding":{"x":{"field":"x","type":"quantitative","scale":{"domain":[-1.1506,2.15],"nice":false},"axis":{"title":"Log₂ fold change","titleFontSize":11.5,"titleFontWeight":"normal","titleColor":"#333","titlePadding":4,"values":[-1,-0.5,0,0.5,1,1.5,2],"labelExpr":"datum.value%1==0?(datum.value<0?'−1':datum.label):''","labelFontSize":11,"labelColor":"#555","domainColor":"#444","domainWidth":1,"tickColor":"#444","gridColor":{"condition":{"test":"datum.value%1==0","value":"#e6e6e6"},"value":"#f3f3f3"},"tickOpacity":{"condition":{"test":"datum.value%1==0","value":1},"value":0}}},"y":{"field":"y","type":"quantitative","scale":{"domain":[-0.2516,4.2],"nice":false,"zero":false},"axis":{"title":"−Log₁₀ P","titleFontSize":11.5,"titleFontWeight":"normal","titleColor":"#333","titlePadding":4,"values":[0,0.5,1,1.5,2,2.5,3,3.5,4],"labelExpr":"datum.value%1==0?datum.label:''","labelFontSize":11,"labelColor":"#555","domainColor":"#444","domainWidth":1,"tickColor":"#444","gridColor":{"condition":{"test":"datum.value%1==0","value":"#e6e6e6"},"value":"#f3f3f3"},"tickOpacity":{"condition":{"test":"datum.value%1==0","value":1},"value":0}}},"color":{"field":"c","type":"nominal","scale":{"domain":["N","L","P","B"],"range":["#333333","#228b22","#4169e1","#ee2a00"]},"legend":{"orient":"none","legendX":37,"legendY":-33,"direction":"horizontal","columns":4,"title":null,"gridAlign":"none","symbolSize":50,"labelFontSize":9.5,"labelColor":"#333","columnPadding":8,"labelExpr":"{'N':'NS','L':'Log₂ FC','P':'p − value','B':'p − value and log₂ FC'}[datum.label]"}}}},
{"data":{"values":[{"v":-0.1},{"v":0.1}]},"mark":{"type":"rule","strokeDash":[3,2],"color":"#777","strokeWidth":0.9},"encoding":{"x":{"field":"v","type":"quantitative"}}},
{"data":{"values":[{"v":1.301}]},"mark":{"type":"rule","strokeDash":[3,2],"color":"#555","strokeWidth":0.7},"encoding":{"y":{"field":"v","type":"quantitative"}}},
{"data":{"name":"volD"},"transform":[{"filter":"datum.n"}],"mark":{"type":"text","fontSize":6.4,"color":"#222"},"encoding":{"x":{"field":"x","type":"quantitative"},"y":{"field":"y","type":"quantitative"},"text":{"field":"n"}}},
{"data":{"values":[{"x":-1.3,"y":5.88,"t":"D","f":13},{"x":-1.206,"y":5.57,"t":"SCFA+JEV vs Control – 6 HPI","f":11}]},"mark":{"type":"text","align":"left","font":"Lato","color":"#111"},"encoding":{"x":{"field":"x","type":"quantitative"},"y":{"field":"y","type":"quantitative"},"text":{"field":"t"},"size":{"field":"f","type":"quantitative","scale":null}}},
{"data":{"values":[{"x":2.15,"y":-1.14,"t":"total = 1446 variables"}]},"mark":{"type":"text","align":"right","fontSize":8.8,"color":"#333"},"encoding":{"x":{"field":"x","type":"quantitative"},"y":{"field":"y","type":"quantitative"},"text":{"field":"t"}}}
]}
]}
]}
]}
